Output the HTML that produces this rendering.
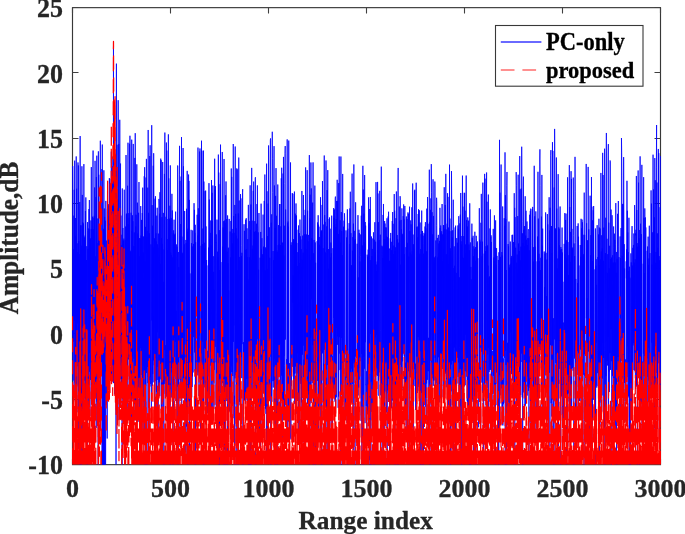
<!DOCTYPE html>
<html><head><meta charset="utf-8"><style>
html,body{margin:0;padding:0;background:#fff;width:685px;height:534px;overflow:hidden}
body{position:relative;font-family:"Liberation Serif",serif;font-weight:bold;color:#262626}
.t{position:absolute;left:0;top:0;width:685px;height:534px;will-change:transform;-webkit-text-stroke:0.3px currentColor}
svg{position:absolute;left:0;top:0}
.yl{position:absolute;right:622px;font-size:26px;line-height:26px;text-align:right;white-space:nowrap;transform:scaleY(1.04)}
.xl{position:absolute;top:476.3px;width:80px;font-size:26px;line-height:26px;text-align:center;white-space:nowrap}
.lab{position:absolute;font-size:25.3px;line-height:25px;white-space:nowrap}
.leg{position:absolute;font-size:22.5px;line-height:22px;white-space:nowrap;color:#000;transform:scaleY(1.06);transform-origin:0 0}
</style></head><body>
<svg width="685" height="534" viewBox="0 0 685 534">
<defs><clipPath id="c"><rect x="72" y="7" width="589" height="458"/></clipPath></defs>
<rect x="72.5" y="7.65" width="588.0" height="457.0" fill="none" stroke="#383838" stroke-width="1.15"/>
<path d="M72.5 7.5v6M72.5 464.5v-6M170.5 7.5v6M170.5 464.5v-6M268.5 7.5v6M268.5 464.5v-6M366.5 7.5v6M366.5 464.5v-6M464.5 7.5v6M464.5 464.5v-6M562.5 7.5v6M562.5 464.5v-6M660.5 7.5v6M660.5 464.5v-6M72.5 7.5h6M660.5 7.5h-6M72.5 72.5h6M660.5 72.5h-6M72.5 138.5h6M660.5 138.5h-6M72.5 203.5h6M660.5 203.5h-6M72.5 268.5h6M660.5 268.5h-6M72.5 333.5h6M660.5 333.5h-6M72.5 399.5h6M660.5 399.5h-6M72.5 464.5h6M660.5 464.5h-6" stroke="#404040" stroke-width="1.1" fill="none"/>
<g clip-path="url(#c)" fill="none" stroke-linejoin="round">
<path d="M72.5 335.44 72.7 166.05 72.89 186.2 73.09 380.54 73.28 249.24 73.48 252.1 73.68 341.68 73.87 215.61 74.07 391.24 74.26 189.75 74.46 320.73 74.66 160.67 74.85 382.51 75.05 235.86 75.24 401.47 75.44 217.99 75.64 397.83 75.83 237.43 76.03 355.73 76.23 156.45 76.42 386.58 76.62 188.71 76.81 386.93 77.01 412.3 77.21 243.35 77.4 323.4 77.6 251.97 77.79 366.32 77.99 162.45 78.19 385.68 78.38 165.47 78.58 448.87 78.77 241 78.97 395.46 79.17 254.15 79.36 342.09 79.56 366.17 79.75 202.01 79.95 464.5M79.95 464.5 80.15 136.05 80.34 340.7 80.54 225.54 80.73 392.77 80.93 375.91 81.13 225.3 81.31 464.5M81.34 464.5 81.52 245.79 81.72 421.36 81.91 166.29 82.11 357.93 82.3 194.92 82.5 454.19 82.7 222.08 82.89 396.07 83.09 243.96 83.28 327.82 83.48 223.49 83.68 408.46 83.87 164.1 84.07 410.45 84.26 240.19 84.46 350.75 84.66 237.39 84.85 380.72 85.05 235.59 85.24 379.53 85.44 211.01 85.64 401.92 85.83 197.43 86.03 379.23 86.22 410.46 86.42 260.03 86.62 453.17 86.81 246.23 87.01 354.63 87.13 464.5M87.25 464.5 87.4 230.44 87.6 222.07 87.79 331.04 87.99 248.87 88.19 390.37 88.38 228.52 88.58 419.97 88.77 373.51 88.97 209.04 89.17 371.74 89.36 200.05 89.56 352.61 89.75 229.22 89.95 416.21 90.15 239.8 90.34 380.05 90.54 238.36 90.73 334.6 90.93 220.44 91.13 369.01 91.32 167.12 91.52 389.47 91.71 229.11 91.91 237.65 92.11 234.9 92.3 392.35 92.5 216.71 92.69 369.75 92.89 167.98 93.09 150.56 93.28 363.19 93.48 229.4 93.68 437.99 93.87 217.63 94.07 397.29 94.26 215.84 94.46 444.23 94.66 187.44 94.85 389.11 95.05 160.84 95.24 209.7 95.44 394.49 95.64 256.42 95.83 349.36 96.03 197.14 96.22 427.9 96.42 177.02 96.62 370.13 96.81 155.69 97.01 401.92 97.2 218.48 97.4 242.97 97.6 258.66 97.79 383.39 97.99 243.02 98.16 464.5M98.21 464.5 98.38 151.33 98.58 408 98.77 174.71 98.97 360.36 99.16 238.15 99.36 376.62 99.56 241.01 99.75 241.91 99.95 382.65 100.15 430.82 100.34 140.72 100.54 369.66 100.73 190.23 100.93 366.46 101.13 270.29 101.32 357.42 101.52 237.46 101.71 362.43 101.91 169.09 102.07 464.5M102.14 464.5 102.3 144.56 102.46 464.5M102.74 464.5 102.89 253 103.05 464.5M103.31 464.5 103.48 228.83 103.65 464.5M103.7 464.5 103.87 170.32 104.05 464.5M104.09 464.5 104.26 208.48 104.44 464.5M104.48 464.5 104.65 216.92 104.81 464.5M105.1 464.5 105.24 220.74 105.4 464.5M105.67 464.5 105.83 200.91 106.03 378.96 106.22 249.83 106.42 404.62 106.62 240.59 106.81 372.97 107.01 287.73 107.2 438.5 107.4 208.87 107.6 384.74 107.79 391.06 107.99 205.74 108.18 354.6 108.38 204.19 108.58 382.25 108.77 216.31 108.97 348.99 109.16 380.2 109.36 178.12 109.56 352.85 109.75 178.84 109.95 346.1 110.14 208.68 110.34 351.11 110.54 189.82 110.73 292.15 110.93 208.21 111.12 292.15 111.32 151.62 111.52 374.55 111.71 179.18 111.91 382.3 112.11 166.06 112.3 336.02 112.5 167.91 112.69 368.09 112.89 156.48 113.09 377.63 113.28 369.59 113.48 46.67 113.67 383.07 113.87 141.33 114.07 383.14 114.26 145.26 114.46 144.03 114.65 394.41 114.85 153.61 115.05 356.35 115.24 168.57 115.44 385.59 115.63 175.77 115.83 193.88 115.98 464.5M116.07 464.5 116.22 184.87 116.42 63.65 116.61 178.91 116.81 359.61 117.01 144.75 117.2 391.07 117.4 243.41 117.6 358 117.79 199.42 117.99 420.02 118.18 100.21 118.38 188.86 118.58 347.11 118.77 144.01 118.97 382.31 119.16 228.78 119.36 359.73 119.56 245.47 119.75 119.79 119.95 188.67 120.14 355.78 120.34 185.74 120.54 163.55 120.73 379.43 120.93 215.56 121.12 390.27 121.32 245.31 121.52 389.53 121.71 394.65 121.91 234.75 122.08 464.5M122.13 464.5 122.3 188.48 122.5 375.1 122.69 250.54 122.89 227.99 123.08 398.98 123.28 347.19 123.48 240.56 123.67 357.05 123.87 238.61 124.07 398.78 124.26 189.71 124.46 354.29 124.65 249.96 124.85 425.27 125.05 399.66 125.24 240.21 125.44 379.42 125.63 226.56 125.83 377.1 126.03 155.03 126.22 384.51 126.42 214.22 126.61 336.79 126.81 213.47 127.01 348.55 127.2 257.51 127.4 366.05 127.59 185.75 127.79 413.82 127.99 142.73 128.18 353.3 128.38 224.44 128.57 359.06 128.77 213.18 128.97 359.71 129.16 217.84 129.36 394.23 129.56 143.76 129.75 383.23 129.95 135.75 130.14 427.88 130.34 250.78 130.54 395.29 130.73 252.25 130.93 350.33 131.12 212.74 131.32 381.43 131.52 425.16 131.71 139.67 131.91 399.42 132.1 231.2 132.3 360.71 132.5 215.34 132.69 391.08 132.89 221.22 133.08 341.73 133.28 143.95 133.48 456.72 133.67 401.95 133.87 246.13 134.06 358.68 134.26 232.48 134.46 245.55 134.65 404.16 134.85 157.93 135.04 420.32 135.24 133.18 135.44 409.79 135.63 226.51 135.83 396.64 136.03 214.74 136.22 225.11 136.42 392.79 136.61 430 136.81 164.33 137.01 376.52 137.2 409.19 137.4 202.66 137.59 369.49 137.79 233.55 137.99 422.03 138.18 235.73 138.38 389.47 138.57 212.78 138.77 362.72 138.97 182.05 139.16 387.04 139.36 238.11 139.55 431.15 139.75 256.51 139.95 256.8 140.14 399.65 140.34 238.29 140.53 347.92 140.73 206.09 140.93 425.92 141.12 235.59 141.32 375.01 141.52 219.92 141.71 359.92 141.91 257.64 142.1 364.71 142.3 212.99 142.5 387.54 142.69 187.65 142.89 435.11 143.08 252.51 143.28 365.76 143.48 236.49 143.67 401.83 143.87 278.62 144.06 372.6 144.26 176.26 144.46 375.07 144.65 167.22 144.85 436.67 145.04 261.87 145.2 464.5M145.28 464.5 145.44 226.83 145.63 386.14 145.83 228.35 146.02 177.52 146.22 369.11 146.42 158.88 146.61 373.03 146.81 237.34 146.97 464.5M147.04 464.5 147.2 230.83 147.4 366.97 147.59 223.99 147.79 187.64 147.99 383.12 148.18 129.98 148.38 377.01 148.57 212.86 148.77 407.72 148.97 242.13 149.16 434.95 149.36 233.29 149.55 370.08 149.75 156.02 149.95 386.53 150.14 145.25 150.34 377.2 150.53 349.97 150.73 383.84 150.93 244.36 151.12 381.24 151.32 411.5 151.51 403.09 151.71 125.2 151.91 320.51 152.1 205.12 152.3 385.77 152.49 225.72 152.69 374.09 152.89 247.29 153.08 382.32 153.28 165.77 153.47 360.38 153.67 153.24 153.87 208.73 154.06 219.96 154.26 365.25 154.46 238.35 154.65 407.88 154.85 377.62 155.04 198.68 155.24 381.2 155.44 196.23 155.63 358.13 155.83 262.17 156.02 233.27 156.22 414.81 156.42 241.57 156.61 391.9 156.81 215.67 157 366.97 157.2 207.78 157.4 332.26 157.59 244.27 157.79 379.92 157.98 247.66 158.18 434.74 158.38 233.59 158.57 244.05 158.77 390.97 158.96 198.93 159.16 205.22 159.36 388.56 159.55 213.71 159.75 396.12 159.95 192.23 160.14 355.82 160.34 263.94 160.53 363.77 160.73 158.62 160.93 379.37 161.12 160.21 161.32 413.42 161.51 238.09 161.71 412.84 161.91 217.16 162.1 402.07 162.3 243.87 162.49 392.68 162.69 161.98 162.89 422.68 163.08 363.99 163.28 212.89 163.47 394.99 163.67 281.9 163.84 464.5M163.89 464.5 164.06 249.54 164.26 383.85 164.45 173.91 164.65 350.02 164.85 132.57 165.04 391.39 165.24 393.91 165.43 381.19 165.63 345.21 165.83 381.22 166.02 216.76 166.22 394.35 166.42 142.55 166.61 396.69 166.81 150.56 167 349.63 167.2 239.12 167.4 379.57 167.59 250.3 167.79 387.84 167.98 218.99 168.18 458.22 168.38 134.36 168.57 419.72 168.77 178.37 168.96 377.95 169.16 228.37 169.36 452.13 169.55 218.73 169.75 380.44 169.94 205.73 170.14 464.5M170.14 464.5 170.34 165.39 170.53 389.33 170.73 252.77 170.92 372.53 171.12 217.94 171.32 397.45 171.51 255.35 171.71 368.01 171.91 193.83 172.1 327.55 172.3 210.47 172.49 408.87 172.69 257.5 172.89 276.38 173.06 464.5M173.1 464.5 173.28 233.36 173.47 396.72 173.67 230.37 173.87 410.1 174.06 219.68 174.26 372.94 174.45 234.58 174.65 337.89 174.85 244.6 175.04 391.07 175.24 233.56 175.43 342.02 175.63 211.64 175.83 373.6 176.02 310.87 176.22 353.95 176.41 402.92 176.61 244.45 176.81 385.73 177 427.15 177.2 246.74 177.39 386.69 177.59 165.5 177.79 165.76 177.98 464.45 178.18 407.46 178.38 252.09 178.57 390.81 178.77 267.26 178.96 446.82 179.16 223.29 179.36 174.44 179.55 145.85 179.75 357.61 179.94 180.84 180.14 379.43 180.34 236.11 180.53 393.62 180.73 224.04 180.92 355.95 181.12 176.54 181.32 358.65 181.51 137.05 181.71 434.34 181.9 236.66 182.1 357.59 182.3 254.13 182.49 373.85 182.69 252.74 182.88 390.64 183.08 148 183.28 392.39 183.47 166.34 183.67 372 183.87 356.38 184.06 393.84 184.26 244.24 184.45 398.79 184.65 210.96 184.85 399.83 185.04 361.77 185.24 452.42 185.43 396.75 185.63 383.85 185.83 239.96 186.02 395.33 186.22 243.14 186.41 426.51 186.61 208.77 186.81 360.51 187 457.81 187.2 170.87 187.39 393.59 187.59 231.68 187.77 464.5M187.8 464.5 187.98 228.68 188.18 348.18 188.37 388.71 188.57 174.53 188.77 401.3 188.96 180.89 189.16 352.69 189.35 199.91 189.55 446.81 189.75 348.49 189.94 273.43 190.14 405.24 190.34 402.39 190.53 379.28 190.73 394.77 190.92 407.84 191.12 229.83 191.32 411.83 191.51 243.14 191.71 397.43 191.9 271.8 192.1 386.99 192.3 246.53 192.49 376.39 192.69 230.45 192.88 255.73 193.08 372.44 193.28 355.93 193.47 243.88 193.67 337.1 193.86 243.6 194.06 203.2 194.26 332.56 194.45 209.88 194.65 352.45 194.84 232.88 195.04 371.22 195.24 224.8 195.4 464.5M195.47 464.5 195.63 242.19 195.83 378.05 196.02 357.23 196.22 407.04 196.41 346.12 196.61 360.66 196.81 355.7 197 279.1 197.2 214.76 197.39 361.88 197.59 235.57 197.79 375.41 197.98 147.58 198.18 372.33 198.37 208.32 198.57 367.14 198.77 222.58 198.96 396.09 199.16 214.52 199.35 335.56 199.55 151.59 199.75 369.34 199.94 148.47 200.14 381.79 200.33 402.37 200.53 431.91 200.73 361.77 200.92 360 201.12 245.77 201.31 361.2 201.51 140.69 201.71 371.02 201.9 150.67 202.1 411.02 202.3 417.65 202.49 244.02 202.69 341.87 202.88 228.53 203.08 400.58 203.28 169.53 203.47 150.62 203.63 464.5M203.71 464.5 203.86 181.57 204.06 263.12 204.26 242.75 204.45 348.21 204.65 248.49 204.84 387.35 205.04 191.15 205.24 382.87 205.43 375.35 205.63 190.6 205.82 404.92 206.02 226.42 206.22 382.11 206.41 387.05 206.61 260.03 206.8 376.96 207 369.91 207.2 376.36 207.39 413.34 207.59 350.81 207.79 388.59 207.98 392.02 208.18 265.4 208.37 372.75 208.57 247.58 208.77 357.03 208.96 183.15 209.16 355.62 209.35 199.6 209.55 441.86 209.75 239.09 209.94 406.99 210.14 243.07 210.33 232.87 210.53 351.51 210.73 220.49 210.92 365.64 211.12 245.25 211.31 423.68 211.51 180 211.71 276.74 211.9 353.84 212.1 192.84 212.29 422.96 212.49 220.91 212.69 351.03 212.88 185.47 213.08 336.7 213.27 256.25 213.47 381.54 213.67 271.86 213.86 408.87 214.06 289.79 214.26 360.28 214.45 369.95 214.65 158.73 214.84 362.36 215.04 189.76 215.24 346.85 215.43 186.13 215.63 242.91 215.82 242.07 216.02 405.55 216.22 234.4 216.41 386.3 216.61 442.41 216.8 327.52 217 219.64 217.2 248.94 217.39 401.8 217.59 251.71 217.78 379.33 217.98 257.21 218.18 417.29 218.37 154.59 218.57 427.88 218.76 172.59 218.95 464.5M218.98 464.5 219.16 270.03 219.33 464.5M219.4 464.5 219.55 394.69 219.75 230.11 219.94 378.46 220.14 184.2 220.33 340.88 220.53 144.61 220.73 393.51 220.92 262.1 221.12 340.55 221.31 401.58 221.51 390.98 221.71 398.69 221.9 411.91 222.1 409.9 222.29 151.98 222.49 383.14 222.69 246.65 222.88 369.26 223.08 227.47 223.27 263.31 223.47 418.19 223.67 221.17 223.8 464.5M223.92 464.5 224.06 158.98 224.25 400.5 224.45 220.52 224.65 449.62 224.84 227.28 225.04 388.4 225.23 223.1 225.39 464.5M225.47 464.5 225.63 195.27 225.82 368.55 226.02 181.45 226.22 401.06 226.41 371.97 226.61 219.19 226.8 397.2 227 253.44 227.2 251.7 227.37 464.5M227.41 464.5 227.59 215.43 227.78 353.54 227.98 263.22 228.18 420.98 228.37 247.68 228.57 389.6 228.76 290.52 228.96 382.87 229.16 218.92 229.35 411.49 229.55 366.65 229.74 402.25 229.94 333.67 230.14 231.54 230.33 403.51 230.53 257.52 230.72 380.67 230.92 220.94 231.12 406.61 231.31 168.51 231.51 366.24 231.71 176.89 231.9 371.97 232.1 233.22 232.29 372.15 232.49 243.59 232.69 376.02 232.88 228.94 233.08 418.21 233.27 144.01 233.47 341.84 233.67 215.99 233.86 325.5 234.06 232.81 234.25 404.06 234.45 395.72 234.59 464.5M234.66 464.5 234.84 204.95 235.04 378.32 235.23 146.53 235.43 370.13 235.63 213.9 235.82 375.2 236.02 228.24 236.19 464.5M236.24 464.5 236.41 235.85 236.61 384.79 236.8 168.35 237 371.61 237.19 169.27 237.39 366.78 237.59 270.48 237.78 385.83 237.98 238.59 238.16 464.5M238.19 464.5 238.37 213.47 238.57 378.19 238.76 157.57 238.96 363.59 239.16 200.51 239.35 362.48 239.55 401.75 239.74 256.99 239.94 405.33 240.14 260.85 240.33 384.94 240.53 194.07 240.72 365.71 240.92 198.38 241.12 245.62 241.31 357.13 241.51 256.05 241.7 378.11 241.9 252.79 242.1 344.11 242.29 223.22 242.49 192.75 242.68 189.2 242.85 464.5M242.98 464.5 243.08 404.09 243.27 375.41 243.47 342.2 243.67 382.4 243.86 385.87 244.06 224.22 244.25 400.69 244.45 230.89 244.65 399.93 244.84 398.06 245.04 254.66 245.23 249.81 245.43 403.69 245.63 219.68 245.82 282.3 246.02 400.56 246.21 218.19 246.41 378.95 246.61 249.1 246.8 395.55 247 228.33 247.19 364.83 247.39 257.05 247.59 402.64 247.78 239.05 247.98 378.7 248.17 377.98 248.37 204.88 248.52 464.5M248.64 464.5 248.76 351.43 248.96 279.49 249.1 464.5M249.2 464.5 249.35 257.19 249.55 434.39 249.74 221.09 249.94 385.2 250.14 185.34 250.33 464.5M250.33 464.5 250.53 229.93 250.72 403.45 250.92 204.47 251.07 464.5M251.17 464.5 251.31 259.84 251.51 353.91 251.7 167.9 251.9 355.21 252.1 220.69 252.29 393.13 252.49 248.81 252.68 361.8 252.88 245.56 253.08 372.21 253.27 190.84 253.47 375.78 253.66 181.58 253.86 338.32 254.06 239.11 254.25 398.1 254.45 231.75 254.64 396.7 254.84 221.09 255.04 400.45 255.23 178.33 255.43 177.22 255.58 464.5M255.68 464.5 255.82 230.9 256.02 415.22 256.21 231.92 256.41 350.76 256.61 223.71 256.8 405.3 257 204.07 257.19 339.24 257.39 185.4 257.59 225.09 257.78 228.67 257.98 385.4 258.17 232.34 258.37 388.96 258.57 269.74 258.76 437.26 258.96 213.03 259.15 419.23 259.35 429.57 259.55 410.48 259.74 386.66 259.94 398.86 260.13 257.7 260.33 378 260.53 460.83 260.72 231.95 260.92 417.68 261.11 203.68 261.31 357.1 261.51 249.34 261.7 418.18 261.9 238.19 262.1 428.92 262.29 385.06 262.49 257.6 262.68 254.26 262.88 383.4 263.08 214.63 263.27 383.47 263.47 247.36 263.66 350.48 263.86 246.52 264.06 384.21 264.25 200.95 264.45 239.13 264.64 394.62 264.84 174.52 265.04 356.33 265.23 270.5 265.43 408.64 265.62 247.43 265.82 408.03 266.02 413.87 266.21 248.66 266.41 460.33 266.6 163.65 266.8 371.59 267 191.29 267.19 365.32 267.39 269.15 267.59 451.75 267.78 236.05 267.98 456.57 268.17 203.59 268.37 360.31 268.57 145.46 268.76 394.72 268.96 338.16 269.15 272.1 269.35 227.34 269.55 396.49 269.74 257.76 269.94 356.76 270.13 166.98 270.33 140.4 270.53 138.43 270.72 464.5M270.73 464.5 270.92 391.75 271.11 274.19 271.31 222.7 271.51 411.19 271.7 214.32 271.9 401.82 272.09 156.03 272.29 131.76 272.49 158.22 272.68 192.36 272.88 381.13 273.07 251.07 273.27 387.51 273.47 260.33 273.66 380.9 273.86 181.1 274.06 146.13 274.25 358.48 274.45 185.47 274.62 464.5M274.68 464.5 274.84 250.77 275.04 399.66 275.23 228.22 275.43 437.21 275.62 195.87 275.82 342.57 276.02 168.11 276.21 388.49 276.41 215.8 276.6 419.8 276.8 254.07 277 250.46 277.15 464.5M277.23 464.5 277.39 252.15 277.58 376.79 277.78 184.53 277.98 416.18 278.17 245.12 278.37 365.9 278.56 225.11 278.76 371.94 278.96 247.17 279.15 244.32 279.35 346.85 279.55 204.06 279.74 364.72 279.94 204.01 280.13 409.22 280.33 247.77 280.53 245.04 280.72 414.2 280.92 226.33 281.11 343.73 281.31 178.26 281.51 375.61 281.7 167.76 281.9 395.82 282.09 246.05 282.29 461.74 282.49 242.61 282.68 246.57 282.88 399.68 283.07 173.53 283.27 412.77 283.47 156.92 283.66 406.97 283.86 255.55 284.05 356.1 284.25 225.71 284.45 408.38 284.64 365.54 284.84 183.44 285.03 153.41 285.23 146.05 285.43 339.54 285.62 209.58 285.82 224.83 286.02 411.76 286.21 371.96 286.41 363.54 286.6 359.25 286.8 367.1 287 389.89 287.19 139.38 287.39 398.3 287.58 223.07 287.78 431 287.98 221.52 288.17 354.09 288.37 226.69 288.56 421.51 288.76 140.59 288.96 390.53 289.15 388.33 289.35 392.65 289.54 363.12 289.74 429.66 289.94 437.72 290.13 403.25 290.33 373.28 290.52 162.45 290.72 353.16 290.92 439.39 291.11 244.95 291.31 330.55 291.51 386.14 291.7 251.04 291.9 242.29 292.09 345.48 292.29 193.1 292.49 348.48 292.68 366.81 292.88 193.78 293.07 302.6 293.27 275.69 293.47 390.17 293.66 239.06 293.86 373.19 294.05 240.3 294.25 374.02 294.45 191.58 294.64 403.82 294.84 249.68 295.03 373.43 295.23 213.67 295.43 366.48 295.62 215.71 295.82 334.69 296.01 203.46 296.21 413.88 296.41 215.46 296.6 372.51 296.8 242.98 296.99 398.91 297.19 265.93 297.39 373.48 297.58 352.94 297.78 252.19 297.98 353.23 298.17 229.74 298.37 393.18 298.56 225.44 298.76 429.42 298.96 262.92 299.15 423.74 299.35 233.1 299.54 376.13 299.74 375.36 299.94 219.59 300.13 230.25 300.33 381.36 300.52 236.37 300.72 383.87 300.92 239.52 301.11 443.35 301.31 249.18 301.5 351.53 301.7 402.36 301.9 190.96 302.09 354.86 302.29 259.88 302.48 354.28 302.68 235.63 302.88 396.28 303.07 252.66 303.27 345.6 303.46 195 303.66 412.03 303.86 359.63 304.05 445.92 304.25 366.91 304.45 234.27 304.64 387.18 304.84 215.25 305.03 397.31 305.23 209.8 305.43 405.66 305.62 167.42 305.82 373.94 306.01 248.99 306.21 386.81 306.41 234.49 306.6 238.96 306.8 358.7 306.99 370.36 307.19 170.18 307.39 404 307.58 210.67 307.78 378.86 307.97 241.23 308.17 404.34 308.37 234.93 308.56 394.41 308.76 370.84 308.95 357.99 309.1 464.5M309.17 464.5 309.35 155.08 309.54 381.8 309.74 218.34 309.94 441.96 310.13 194.66 310.33 393.29 310.52 260.36 310.72 337.67 310.92 162.48 311.11 402.78 311.31 188.41 311.5 299.13 311.7 238.07 311.9 380.88 312.09 239.47 312.29 383.13 312.48 206.85 312.68 202.6 312.88 345.14 313.07 162.38 313.27 417.17 313.39 464.5M313.49 464.5 313.66 253.18 313.86 429.41 314.05 239.99 314.25 259.56 314.44 389.22 314.64 412.33 314.84 185.64 315.03 384.64 315.23 242.44 315.38 464.5M315.48 464.5 315.62 262.75 315.82 367.33 316.01 403.72 316.21 405.09 316.41 362.32 316.6 383.82 316.8 399.56 316.99 406.53 317.19 241.11 317.39 380.82 317.58 222.44 317.78 244.33 317.97 360.77 318.17 215.25 318.37 428.8 318.56 224.71 318.76 386.32 318.95 226.69 319.15 409.7 319.35 244.72 319.54 369.14 319.74 236.98 319.93 362.47 320.13 246.21 320.33 350.62 320.52 197.22 320.72 429.27 320.91 376.96 321.11 231.58 321.31 397.97 321.5 230.44 321.64 464.5M321.8 464.5 321.9 384.14 322.09 204.93 322.29 353.46 322.48 181.06 322.68 216.74 322.88 352.64 323.07 248.23 323.27 409.75 323.46 363.73 323.66 365.6 323.86 224.53 324.05 416.92 324.25 155.52 324.44 349.78 324.64 215.12 324.84 307.03 325.03 221.86 325.23 250.59 325.42 371.83 325.62 252.41 325.82 358.45 326.01 160.47 326.21 381.66 326.4 410.78 326.6 252.48 326.8 226.37 326.99 462.75 327.19 190.06 327.38 365.05 327.58 204.93 327.78 170.11 327.97 376.23 328.17 458.44 328.37 249.06 328.56 411.24 328.76 268.75 328.95 357.97 329.15 218.92 329.35 363.08 329.54 217.43 329.74 385.74 329.93 377.94 330.13 228.69 330.33 397 330.52 257.67 330.72 377.49 330.91 242.56 331.11 427.71 331.31 253.24 331.5 356.11 331.7 215.66 331.89 394.83 332.09 388.31 332.29 355.89 332.48 438.96 332.68 370.48 332.87 388.45 333.07 248.19 333.27 391.77 333.46 224.71 333.66 208.04 333.86 317.94 334.05 217.84 334.25 396.43 334.44 209.45 334.64 384.98 334.84 224.17 335.03 401.65 335.23 198.94 335.42 196.58 335.62 408.34 335.82 227.01 336.01 379.68 336.21 219.03 336.4 397.3 336.6 200.96 336.8 220.68 336.99 327.93 337.19 179.81 337.38 344.79 337.58 200.84 337.78 336.48 337.97 259.36 338.17 407.81 338.36 233.91 338.56 396.54 338.76 183.09 338.95 370.15 339.15 156.46 339.34 186.04 339.54 337.15 339.74 229.74 339.93 353.66 340.13 220.28 340.32 464.5M340.33 464.5 340.52 242.64 340.72 369.31 340.91 156.52 341.11 393.89 341.31 212.08 341.5 337.82 341.7 231.04 341.89 400.92 342.02 464.5M342.12 464.5 342.29 254.99 342.48 375.12 342.68 173.95 342.87 401.78 343.07 360.98 343.27 240.42 343.46 226.69 343.66 374.19 343.85 254.96 344.05 220.67 344.25 361.76 344.44 213.27 344.64 217.74 344.83 411.8 345.03 388.41 345.23 368.32 345.42 416.33 345.62 394.24 345.82 390.53 346.01 230.37 346.21 239.72 346.4 377.92 346.6 237.46 346.8 392.55 346.99 422.95 347.19 283 347.38 209.33 347.55 464.5M347.61 464.5 347.78 228.69 347.97 253.94 348.17 386.42 348.36 388.24 348.56 433.38 348.76 395.57 348.95 391.68 349.15 223.12 349.34 362.39 349.54 244.24 349.74 406.13 349.93 208.39 350.13 418.03 350.32 191.73 350.52 395.54 350.72 393.41 350.91 233.13 351.11 368.73 351.3 366.41 351.5 265.22 351.7 402.63 351.89 370.69 352.09 173.61 352.29 382.04 352.48 250.75 352.68 384.22 352.87 237.07 353.07 254.29 353.27 450.28 353.46 223.63 353.66 360.28 353.85 164.46 354.05 363.4 354.25 230.87 354.44 367.38 354.64 240.65 354.83 386.92 354.94 464.5M355.07 464.5 355.23 239.03 355.42 356.53 355.62 202.29 355.81 337.86 356.01 376.54 356.21 362.03 356.4 372.17 356.6 379.54 356.79 380.87 356.99 395.84 357.19 243.75 357.38 374.98 357.58 360.08 357.78 249.66 357.97 215.16 358.17 395.49 358.36 277.43 358.56 326.3 358.76 387.59 358.95 229.74 359.15 368.14 359.34 233.13 359.54 255.85 359.74 379.78 359.93 261.52 360.13 361.25 360.32 256.25 360.52 254.89 360.72 234.46 360.91 339.29 361.11 421.05 361.3 215.67 361.5 353.73 361.7 205.81 361.88 464.5M361.91 464.5 362.09 262.46 362.28 442.53 362.48 245.51 362.68 371.22 362.87 165.82 363.07 400.92 363.26 189.55 363.44 464.5M363.52 464.5 363.66 367.85 363.85 213.67 364.05 356.89 364.25 242.51 364.44 368.69 364.64 175.02 364.83 370.78 365.03 423.18 365.23 222.02 365.42 342.24 365.62 225.6 365.81 385.13 366.01 384.52 366.21 406.16 366.4 371.23 366.6 371.22 366.79 430.54 366.99 373.34 367.19 254.67 367.38 258.76 367.58 414.2 367.77 256.7 367.97 407.4 368.17 249.64 368.36 401.08 368.56 197.39 368.75 362.33 368.95 224.95 369.15 223.18 369.34 460.24 369.54 259.65 369.74 208.98 369.91 464.5M369.99 464.5 370.13 396.69 370.32 196.97 370.52 333.74 370.72 260.16 370.89 464.5M370.93 464.5 371.11 266.05 371.3 411.85 371.5 236.53 371.7 381.59 371.89 256.06 372.09 372.29 372.28 248.95 372.48 361.64 372.68 409.05 372.87 238.49 373.07 405.39 373.26 369.42 373.46 232.35 373.66 335.96 373.85 381.86 373.98 464.5M374.12 464.5 374.24 386.32 374.44 239.74 374.64 371.23 374.83 222.25 375.03 357.74 375.22 252.33 375.42 337.31 375.62 241.68 375.81 392.92 376.01 182.12 376.21 374.95 376.4 270.96 376.6 334.82 376.79 264.58 376.99 368.78 377.19 261.54 377.38 375.85 377.58 181.93 377.77 365.63 377.97 193.47 378.17 395.76 378.36 222.12 378.56 380.68 378.75 376.03 378.95 246.33 379.15 240.18 379.34 372.44 379.54 346.57 379.73 190.85 379.93 361.37 380.13 267.08 380.32 234.7 380.52 330.84 380.71 395.36 380.91 249.71 381.11 213.49 381.3 166.65 381.5 431.33 381.7 439.68 381.89 245.66 382.09 458.13 382.28 246.53 382.48 392.51 382.68 258.02 382.87 343.88 383.07 214.91 383.26 356.5 383.46 203.97 383.66 353.46 383.85 379.07 384.05 239.26 384.24 443.19 384.44 359.12 384.64 220.98 384.83 408.28 385.03 223.54 385.22 360.95 385.42 239.53 385.62 363.62 385.81 227.28 386.01 391.53 386.2 227.7 386.4 412.36 386.6 236.21 386.79 393.3 386.99 218.32 387.16 464.5M387.21 464.5 387.38 237.15 387.58 386.34 387.77 242.22 387.97 390.32 388.17 216.49 388.36 378.73 388.56 211.73 388.75 372.39 388.95 261.19 389.15 394.82 389.34 248.52 389.5 464.5M389.58 464.5 389.73 260.74 389.93 401.62 390.13 454.56 390.32 238.34 390.52 416.36 390.71 232.94 390.91 361.24 391.11 368.83 391.3 241.82 391.5 408.27 391.69 250.19 391.89 375.08 392.09 371.69 392.28 221.02 392.48 400.54 392.67 212 392.87 391.95 393.07 223.82 393.26 407.42 393.46 254.01 393.66 417.75 393.85 245.59 394.05 359.68 394.24 194.07 394.44 399.27 394.64 210.67 394.83 221.46 395 464.5M395.05 464.5 395.22 251.43 395.42 387.41 395.62 247.34 395.81 347.04 396.01 218.2 396.2 419.67 396.4 191.5 396.6 407.47 396.79 269.7 396.99 370.78 397.18 235.01 397.38 389.24 397.58 239.15 397.73 464.5M397.81 464.5 397.97 190.7 398.16 167.94 398.36 410.35 398.56 408.66 398.75 242.66 398.95 257.42 399.14 368.41 399.34 206.54 399.54 389.05 399.73 220.67 399.93 361.3 400.13 196.19 400.32 203.95 400.52 364.85 400.71 264.67 400.91 424.64 401.11 219.93 401.3 413.6 401.5 229.35 401.69 375.22 401.89 208.37 402.09 390.32 402.28 234.7 402.48 361.34 402.67 361.24 402.87 233.79 403.07 349.09 403.26 216.1 403.46 353.5 403.65 204.41 403.85 347.6 404.05 219.34 404.24 356.08 404.44 254.09 404.63 390.48 404.83 205.98 405.03 410.62 405.22 374.27 405.42 362.66 405.62 420.04 405.81 379.7 406.01 247.21 406.2 431.52 406.4 216.49 406.6 388.75 406.79 338.84 406.99 219.03 407.18 404.87 407.38 242.84 407.58 391.13 407.77 373.87 407.97 212.38 408.16 368.59 408.36 213.7 408.56 371.28 408.75 256.46 408.95 446.85 409.14 410.11 409.34 229.26 409.54 206.67 409.73 377.08 409.93 231.08 410.12 372.46 410.32 252.73 410.52 377.33 410.71 220.42 410.91 353.7 411.1 224.39 411.3 440.69 411.5 254.51 411.69 352.9 411.89 207.32 412.09 369.36 412.28 251.14 412.48 325.9 412.67 183.51 412.87 393.47 413.07 234.54 413.26 431.2 413.46 244.29 413.65 349.56 413.85 248.7 414.05 386.19 414.24 327.9 414.44 190.63 414.63 369.2 414.83 189.73 415.03 375.21 415.22 379.4 415.42 363.64 415.61 409.93 415.81 372.37 416.01 393.9 416.2 182.73 416.4 392.64 416.59 370.8 416.79 227.23 416.99 363.47 417.18 226.49 417.38 393.04 417.58 281.33 417.77 237.24 417.97 336.81 418.16 214 418.36 386.88 418.56 209.22 418.75 337.08 418.95 265.59 419.14 390.88 419.34 210.23 419.54 340.24 419.73 253.77 419.93 379.4 420.12 222.52 420.28 464.5M420.39 464.5 420.52 355.56 420.71 249.11 420.91 392.83 421.1 234.26 421.3 249.48 421.5 392.71 421.69 210.59 421.86 464.5M421.92 464.5 422.08 231.03 422.28 459.75 422.48 230.99 422.67 257.3 422.87 386.79 423.06 235.71 423.26 243.59 423.42 464.5M423.49 464.5 423.65 253.7 423.85 378.84 424.05 232.83 424.24 363.49 424.44 234.19 424.63 394.8 424.83 370.26 425.03 226.51 425.22 406.8 425.42 222.12 425.61 397.62 425.81 228.25 426.01 421.88 426.2 420.99 426.4 251.25 426.59 383.43 426.79 208.65 426.99 355.25 427.18 349.16 427.38 379.81 427.57 197.04 427.77 371.1 427.97 223.67 428.16 429.07 428.36 370.03 428.55 337.82 428.75 371.15 428.95 368.28 429.14 357.43 429.34 169.69 429.54 386.13 429.73 222.03 429.9 464.5M429.95 464.5 430.12 228.24 430.32 360.63 430.52 209.87 430.71 346.15 430.91 198.38 431.1 403.52 431.3 164.11 431.5 192.67 431.69 383.57 431.89 425.88 432.08 212.2 432.28 378.3 432.48 370.49 432.67 234.39 432.87 349.58 433.06 179.31 433.26 385.78 433.46 215.94 433.65 380.47 433.85 262.86 434.04 345.23 434.24 380.37 434.44 257.45 434.63 317.17 434.83 181.56 435.02 188.08 435.22 357.84 435.42 256.1 435.61 386.02 435.81 240.48 436.01 410.36 436.2 391.8 436.4 225.34 436.59 197.76 436.79 203.51 436.99 382.98 437.18 352.69 437.38 237.93 437.57 397.96 437.77 257.4 437.97 432.54 438.16 453.96 438.36 234.89 438.55 357.24 438.75 243.54 438.95 348.2 439.14 253.01 439.34 384.06 439.53 240.85 439.73 402.4 439.93 207.85 440.12 371.49 440.32 227.93 440.51 364.11 440.71 225.44 440.91 236.4 441.1 362.65 441.3 233.31 441.49 389.86 441.69 231.25 441.89 397.15 442.08 204.04 442.28 350.98 442.48 236.12 442.67 234.38 442.87 368.99 443.06 261.14 443.26 357.99 443.46 225.2 443.65 395.47 443.85 225.26 444.04 344.65 444.24 187.25 444.44 372.68 444.63 376.4 444.83 228.98 445.02 371.83 445.22 205.06 445.42 277.84 445.61 373.59 445.81 173.86 446 363.2 446.2 387.29 446.4 254.22 446.59 379.25 446.79 229.52 446.98 346.11 447.18 223.67 447.38 415.86 447.57 193.21 447.77 390.62 447.97 196.87 448.16 404.85 448.36 227.53 448.55 349.7 448.75 264.69 448.95 424.13 449.14 230.98 449.34 375.96 449.53 164.62 449.73 417.35 449.93 218.57 450.12 316.44 450.32 248.16 450.47 464.5M450.56 464.5 450.71 250.9 450.91 454.64 451.1 231.14 451.3 364.43 451.49 171.07 451.69 199.4 451.89 391.34 452.08 378.01 452.28 237.51 452.47 360.82 452.67 230.33 452.87 375.23 453.06 401.86 453.26 199.72 453.45 463.65 453.65 372.09 453.85 268.11 454.04 370.6 454.24 246.37 454.44 347.4 454.63 265.75 454.83 388.39 455.02 229.53 455.22 227.31 455.42 459.76 455.61 225.63 455.81 392.65 456 353.52 456.2 272.91 456.4 385.51 456.59 383.01 456.79 238.09 456.98 383.52 457.18 263.61 457.38 242.73 457.57 357.72 457.77 267.59 457.96 225.45 458.16 376.86 458.36 228.74 458.55 362.51 458.75 216.19 458.94 410.82 459.14 364.83 459.34 277.31 459.53 347.34 459.73 399.29 459.93 223.39 460.12 396.45 460.32 214.63 460.51 434.92 460.71 192.98 460.91 389.21 461.1 241.26 461.3 386.99 461.49 244.54 461.64 464.5M461.74 464.5 461.89 235.97 462.08 368.49 462.28 222.03 462.47 175.64 462.67 402.51 462.87 206.64 463.06 250.94 463.26 448.21 463.45 257.89 463.65 424.34 463.85 236.04 464.04 378.33 464.24 192.73 464.43 386.4 464.63 193.09 464.83 355.24 465.02 210.69 465.22 385.23 465.41 244.46 465.61 334.51 465.81 253.28 466 371.18 466.2 175.55 466.4 372.19 466.59 219.98 466.79 376.62 466.98 240.28 467.18 401.29 467.38 226.55 467.57 406.32 467.77 217.4 467.96 354.7 468.16 385.06 468.36 220.63 468.55 410.9 468.75 365.72 468.94 244.54 469.14 405.45 469.34 250.37 469.52 464.5M469.54 464.5 469.73 203.3 469.92 436.55 470.12 391.24 470.32 242.38 470.51 376.79 470.63 464.5M470.76 464.5 470.9 266.94 471.1 411.95 471.3 279.41 471.49 410.63 471.69 406.45 471.89 223.67 472.08 401.76 472.28 237.81 472.47 248.42 472.67 399.43 472.87 286.19 473.06 235.8 473.26 389.89 473.45 256.29 473.65 457.33 473.85 246.32 474.04 350.2 474.24 413.27 474.43 248.68 474.63 390.18 474.83 231.76 475.02 414.11 475.22 260.69 475.41 403.61 475.61 247.04 475.81 264.98 475.96 464.5M476.04 464.5 476.2 235.82 476.39 238.74 476.59 396.11 476.79 242.62 476.98 270.69 477.18 383.15 477.37 241.43 477.57 387.28 477.77 258.19 477.96 373.12 478.16 407.33 478.36 427.33 478.55 412.16 478.75 388.42 478.94 376.64 479.14 392.93 479.34 208.2 479.53 368.91 479.73 239.73 479.92 397.48 480.12 241.59 480.32 348.64 480.51 381.66 480.71 430.92 480.9 222.75 481.1 351.83 481.3 193.89 481.49 219.84 481.69 224.04 481.88 382.58 482.08 256.23 482.28 343.83 482.47 241.67 482.67 392.94 482.86 182.63 483.06 357.66 483.26 400.58 483.45 393.4 483.65 450.99 483.85 391.26 484.04 377.7 484.24 253.64 484.43 383.42 484.63 173.88 484.83 390.16 485.02 178.63 485.22 362.29 485.41 251.11 485.61 368.66 485.81 374.07 486 246.17 486.2 448.68 486.39 208.99 486.59 172.51 486.79 383.55 486.98 201.75 487.18 258.59 487.37 387.92 487.57 245.46 487.77 354.45 487.96 265.69 488.16 347.9 488.35 194.57 488.55 398.65 488.75 442.12 488.94 277.69 489.14 372.12 489.33 350.55 489.53 276.47 489.73 369.97 489.92 228.44 490.12 364.18 490.32 209.45 490.51 369.75 490.71 236.88 490.9 358.39 491.1 235.33 491.3 409.59 491.49 241.98 491.69 387.06 491.88 381.71 492.08 402.96 492.28 351.03 492.47 364.66 492.67 371.73 492.86 364.48 493.06 393.8 493.26 228.87 493.45 375.68 493.65 263.37 493.84 257.55 494.04 395.94 494.24 439.84 494.43 215.38 494.63 388.11 494.82 260.86 495.02 392.7 495.22 247.56 495.35 464.5M495.47 464.5 495.61 220.38 495.81 394.35 496 405.17 496.2 264.88 496.39 372.51 496.59 248.14 496.79 340.38 496.98 255.95 497.18 383.96 497.37 359.3 497.57 440.52 497.77 382.45 497.96 380.5 498.16 459.33 498.35 259.98 498.55 265.18 498.7 464.5M498.79 464.5 498.94 252.34 499.14 344.49 499.33 428.88 499.53 139.85 499.73 374.84 499.92 192.64 500.12 237.1 500.31 376.34 500.51 256.92 500.71 395.32 500.9 231.87 501.1 164.53 501.29 324.75 501.49 355.77 501.69 388.35 501.88 252.09 502.08 424.47 502.28 255.43 502.47 408.26 502.67 206.48 502.86 425.48 503.06 393.77 503.26 400.57 503.45 404.22 503.65 358.42 503.84 402.8 504.04 379.24 504.24 218.22 504.43 357.8 504.63 225.76 504.82 348.1 505.02 152.35 505.18 464.5M505.26 464.5 505.41 195.15 505.61 350.97 505.8 219.06 506 365.06 506.2 270.04 506.36 464.5M506.47 464.5 506.59 404.95 506.78 185.43 506.98 171.98 507.18 409.79 507.37 405.57 507.57 342.79 507.77 384.42 507.96 405.76 508.16 244.04 508.35 402.54 508.55 246.35 508.75 390.18 508.94 221.56 509.14 340.48 509.33 267.46 509.53 416.47 509.73 274.08 509.92 264.7 510.12 368.11 510.31 241.57 510.51 265.68 510.71 367.13 510.9 263.78 511.1 332.1 511.29 257.76 511.49 374.09 511.69 255.95 511.88 353.56 512.08 234.93 512.27 380.46 512.47 378.38 512.67 234.79 512.86 257.72 513.06 269.93 513.25 394.05 513.45 242 513.65 368.2 513.84 256.6 514.04 406.5 514.24 193.2 514.43 391.85 514.63 207.9 514.78 464.5M514.87 464.5 515.02 217.13 515.22 245.65 515.41 368.55 515.61 247.78 515.8 253.44 516 388.68 516.2 172.11 516.39 185.31 516.59 414.61 516.78 262.71 516.98 365.66 517.18 254.55 517.37 284.49 517.57 391.96 517.76 216.09 517.96 349.54 518.16 174.72 518.35 359.25 518.55 243.52 518.74 345.66 518.94 251.04 519.14 350.98 519.33 251 519.53 372.1 519.73 156.09 519.92 440.37 520.12 189.31 520.31 369.78 520.51 260.53 520.71 395.11 520.9 246.66 521.1 361.95 521.29 188.43 521.49 353.55 521.69 146.73 521.88 193.74 522.08 221.47 522.27 397.34 522.47 233.35 522.66 464.5M522.67 464.5 522.86 243.04 523.06 353.11 523.25 184.05 523.45 176.63 523.65 392.38 523.84 229.82 524.04 242.91 524.23 390.31 524.43 226.05 524.63 396.43 524.82 246.05 525.02 406.38 525.21 196.27 525.41 405.24 525.61 235.62 525.8 399.58 526 210.76 526.2 377.5 526.39 253.51 526.59 239.76 526.78 373.17 526.98 221.48 527.18 395.56 527.37 245.03 527.57 376.46 527.76 238.08 527.96 386.56 528.16 231.25 528.35 229.24 528.55 390.78 528.74 238.14 528.94 455.55 529.14 250.26 529.33 320.87 529.53 387.66 529.72 214.75 529.92 363.45 530.12 278.85 530.31 210.86 530.51 405.61 530.7 208.65 530.9 433.5 531.1 319.72 531.29 390.51 531.49 358.11 531.69 409.65 531.88 395.18 532.08 245.35 532.27 209.16 532.47 372.82 532.67 206.92 532.86 257.02 533.06 416.94 533.25 247.11 533.45 405.58 533.65 261.64 533.84 372.18 534.04 422.18 534.23 165.79 534.43 373.32 534.63 216.32 534.82 419.1 535.02 246.68 535.21 252.4 535.41 388.99 535.61 258.72 535.8 211.39 536 432.04 536.19 338.45 536.39 400.1 536.59 368.57 536.78 411.52 536.98 401.25 537.17 261.37 537.37 452.08 537.57 236.54 537.76 358.04 537.96 171.81 538.16 417.71 538.35 218.63 538.55 255.53 538.74 398.42 538.94 253.79 539.14 372.74 539.33 261.26 539.53 364.53 539.72 159.99 539.92 149.35 540.12 185.27 540.31 350.14 540.51 270.1 540.7 344.67 540.9 257.81 541.1 346.07 541.29 368.26 541.49 216.62 541.68 389.23 541.88 174.93 542.08 415.22 542.27 245.79 542.47 347.49 542.66 228.63 542.86 374.22 543.06 387.49 543.25 418.98 543.45 405.25 543.65 384.94 543.84 411.72 544.04 394.34 544.23 251.51 544.43 364.33 544.63 287.22 544.82 387.61 545.02 253.62 545.21 333.97 545.41 298.47 545.61 212.42 545.8 374.88 546 252.8 546.19 362.39 546.39 372.04 546.59 296.17 546.78 345.16 546.98 259.58 547.17 401.26 547.37 214.05 547.57 392.73 547.76 224.4 547.96 369.27 548.15 422.92 548.35 379.28 548.55 336.9 548.74 330.5 548.94 349.14 549.13 197.25 549.33 372.78 549.53 230.51 549.72 253.12 549.92 446.53 550.12 207.78 550.31 248.55 550.51 345.17 550.7 155.27 550.9 150.13 551.1 403.15 551.29 398.54 551.49 226.03 551.68 416.5 551.88 400.79 552.08 253.01 552.27 399.43 552.47 142.17 552.66 381.67 552.86 150.9 553.06 441.28 553.25 405.44 553.45 318.28 553.64 367.14 553.84 378.69 553.96 464.5M554.07 464.5 554.23 187.46 554.43 339.36 554.62 128.93 554.82 170.3 555.02 394.43 555.21 351.54 555.41 228.43 555.61 357.21 555.8 363.21 556 229.49 556.19 354.12 556.39 157.51 556.59 407.01 556.78 208.61 556.98 250.72 557.17 340.29 557.37 268.57 557.57 459.49 557.76 258.54 557.96 358.74 558.15 174.16 558.35 446.38 558.55 413.85 558.74 227.34 558.94 383.89 559.13 228.65 559.33 368.84 559.53 245.3 559.72 358.92 559.92 227.03 560.11 206.51 560.31 343.05 560.51 249.58 560.66 464.5M560.75 464.5 560.9 247.01 561.09 347.19 561.29 264.47 561.49 395.79 561.68 248.97 561.88 396.7 562.08 227.56 562.27 415.13 562.47 252.51 562.66 421.36 562.86 281.73 563.06 375.83 563.25 381.9 563.45 429.83 563.64 322.55 563.84 384.6 564.04 333.35 564.23 243.87 564.43 258.04 564.62 371.28 564.82 213.09 565.02 353.09 565.21 254.69 565.41 368.11 565.6 219.95 565.8 394.43 566 213.64 566.19 355.2 566.39 258.44 566.56 464.5M566.61 464.5 566.78 240.12 566.98 399.7 567.17 241.49 567.37 393.92 567.57 177.32 567.76 446.47 567.96 242.12 568.15 256.1 568.35 393.45 568.55 275.23 568.74 377.34 568.94 255.19 569.13 401.61 569.33 165.13 569.53 432.44 569.72 207.04 569.92 429.4 570.11 363.39 570.31 231.9 570.51 409.91 570.7 261.89 570.9 406.94 571.09 171.18 571.29 389.88 571.49 178.99 571.68 411.57 571.88 228.88 572.07 364.86 572.27 249.23 572.47 368.09 572.66 247.57 572.86 354.97 573.05 370.67 573.25 177.57 573.45 197.07 573.64 235.64 573.8 464.5M573.87 464.5 574.04 243.47 574.23 259.36 574.43 358.53 574.62 256.03 574.82 356.52 575.02 156.87 575.21 191.24 575.41 242.75 575.6 430.37 575.8 278.93 576 421.61 576.19 404.97 576.39 409.54 576.58 384.4 576.78 376.39 576.98 418.18 577.17 225.99 577.37 351.23 577.56 282.96 577.76 307.6 577.96 375.04 578.15 223.38 578.35 370.43 578.54 236.7 578.74 365.4 578.94 265.47 579.13 333.91 579.33 352.01 579.53 401 579.72 383.05 579.92 377.2 580.11 401.31 580.31 245 580.51 349.57 580.7 256.83 580.9 331.54 581.09 218.8 581.29 361.95 581.49 228.34 581.68 231.82 581.88 416.34 582.07 219.62 582.27 380.93 582.47 222.31 582.66 231.43 582.86 347.04 583.05 234.76 583.25 374.73 583.45 255.44 583.64 337.42 583.84 253.99 584.02 464.5M584.05 464.5 584.23 192.63 584.43 354.16 584.62 234.84 584.82 375.74 585.01 373.1 585.21 416.14 585.41 399.2 585.6 390.53 585.8 406.83 586 414.44 586.19 163.94 586.39 318.27 586.58 223.17 586.78 417.1 586.98 298.24 587.17 367.06 587.37 271.84 587.56 240.23 587.76 387.46 587.96 380.2 588.15 166.91 588.35 210.03 588.54 351.56 588.74 229.35 588.94 332.81 589.13 354.74 589.33 383.39 589.52 435.73 589.72 409.81 589.92 387.11 590.11 195.72 590.31 380.69 590.5 255.41 590.7 368.56 590.9 235.17 591.09 398.48 591.29 448.54 591.48 177.01 591.68 398.55 591.88 206.63 592.07 444.18 592.27 260.97 592.47 424.42 592.66 220.31 592.86 224.02 593.05 380.45 593.25 210.22 593.45 399.73 593.64 206.03 593.84 375.32 594.03 379.64 594.23 349.87 594.43 364.23 594.62 376.56 594.82 393.79 595.01 269.4 595.21 417.2 595.41 228.48 595.59 464.5M595.61 464.5 595.8 265.71 595.99 385.36 596.19 259.22 596.39 342.74 596.58 284.78 596.78 387.59 596.97 248.95 597.17 225.2 597.37 301.58 597.56 350.72 597.76 373.13 597.96 256.98 598.15 386.03 598.35 359.62 598.54 234.48 598.74 403.16 598.94 218.76 599.13 371.66 599.33 227.57 599.52 459.34 599.72 265.18 599.92 426.65 600.11 228.51 600.31 354.89 600.5 259.53 600.7 362.56 600.9 172.94 601.09 402.61 601.29 251.61 601.48 364.03 601.68 235.27 601.88 274.7 602.07 395.49 602.27 248.36 602.46 378.56 602.66 152.87 602.86 342.4 603.05 175 603.25 411.71 603.44 260.74 603.64 358 603.84 227.61 604.03 343.58 604.23 427.71 604.43 350.72 604.62 148.69 604.8 464.5M604.86 464.5 605.01 330.72 605.21 264.63 605.41 253.15 605.6 426.12 605.8 217.72 605.99 376.1 606.19 176.68 606.39 132.98 606.58 410.3 606.78 395.91 606.97 238.79 607.17 361.14 607.37 272.91 607.56 365.5 607.76 254.21 607.95 336.9 608.15 155.78 608.35 144.09 608.54 408.2 608.74 222.64 608.93 371.64 609.13 268.31 609.33 392.04 609.52 276.03 609.72 245.78 609.92 353.02 610.11 160.48 610.31 161.44 610.5 369.89 610.7 259 610.9 329.07 611.09 209.59 611.29 361.21 611.48 257.56 611.68 388.51 611.78 464.5M611.92 464.5 612.07 215.23 612.27 229.03 612.46 375.45 612.66 255.21 612.86 376.23 613.05 262.64 613.25 384.01 613.44 247.08 613.64 226.46 613.84 389.44 614.03 262.51 614.23 427.02 614.42 233.64 614.62 379.27 614.82 239.94 615.01 407.32 615.21 262.48 615.4 432.45 615.6 244.21 615.8 203.09 615.99 395.87 616.19 409.51 616.39 251.97 616.57 464.5M616.6 464.5 616.78 272.82 616.97 410.17 617.17 258.8 617.37 377.83 617.56 213.84 617.76 339.67 617.95 356.99 618.15 246.55 618.35 201.01 618.54 383.18 618.74 359.52 618.93 257.08 619.13 385.65 619.33 379.68 619.52 373 619.72 365.02 619.91 380.82 620.11 236.43 620.31 425.19 620.5 258.18 620.7 329.26 620.89 254.55 621.09 228 621.29 360.68 621.48 138 621.68 152.24 621.88 175.78 622.07 379.3 622.27 255.92 622.46 377.8 622.66 204.2 622.86 373.99 623.05 203.81 623.25 403.6 623.44 343.88 623.64 157.14 623.84 222.05 624.03 375.25 624.23 244.18 624.42 382.95 624.62 268.51 624.82 388.72 625.01 422.2 625.21 367.97 625.4 359.41 625.6 375.6 625.8 382.29 625.99 400.94 626.19 261.35 626.38 278.32 626.58 249.36 626.78 369.51 626.97 180.81 627.17 377.07 627.36 210.77 627.56 346.35 627.76 232.43 627.95 397.53 628.15 252.02 628.35 362.08 628.54 270.94 628.74 396.23 628.93 217.77 629.12 464.5M629.15 464.5 629.33 398.71 629.52 266.74 629.66 464.5M629.77 464.5 629.91 277.59 630.11 278.8 630.31 385.12 630.49 464.5M630.52 464.5 630.7 366.55 630.89 253.36 631.09 383.33 631.29 262.36 631.48 405.98 631.68 264.85 631.87 238.85 632.07 226.12 632.27 390.02 632.46 265.6 632.66 390.01 632.85 247.86 633.05 345.44 633.25 252.09 633.44 244.94 633.64 343.14 633.84 233.51 634.03 370.02 634.23 262.68 634.42 370.61 634.62 205.08 634.82 220.96 635.01 351.77 635.21 259.28 635.4 378.25 635.6 233.45 635.8 235.43 635.99 229.74 636.19 370.91 636.38 175.98 636.58 386.51 636.78 210.03 636.97 384.96 637.17 243.05 637.3 464.5M637.43 464.5 637.56 246.78 637.76 263.64 637.95 365.88 638.15 170.49 638.34 375.31 638.54 182.66 638.74 363.49 638.93 238.19 639.13 378.15 639.32 245.8 639.52 464.5M639.52 464.5 639.72 229.98 639.91 384.36 640.11 156.35 640.31 408.65 640.5 223.72 640.7 236.53 640.89 381.73 641.09 240.61 641.29 403.54 641.48 234.13 641.68 379.91 641.87 164.85 642.07 430.52 642.27 369.25 642.46 361.65 642.66 400.55 642.85 366.29 643.05 431.79 643.25 263.75 643.44 353.68 643.64 177.18 643.83 376.12 644.03 217.94 644.23 416.92 644.42 273.13 644.62 360.6 644.81 208.41 645.01 354.15 645.21 237.66 645.4 217.44 645.6 358.45 645.8 227.44 645.99 386.52 646.19 429.88 646.38 372.52 646.58 387.14 646.78 335.67 646.97 376.84 647.17 250.8 647.36 358.37 647.56 246.53 647.76 457.5 647.95 369.61 648.15 236.65 648.34 347.65 648.54 264.94 648.74 380.53 648.93 258.49 649.13 384.47 649.32 225.72 649.52 399.96 649.72 429.94 649.91 253.1 650.11 385.14 650.3 395.99 650.5 396.67 650.7 386.66 650.89 376.61 651.09 190.38 651.28 385.55 651.48 203.62 651.68 342.66 651.87 264.5 652.07 369.83 652.27 386.09 652.46 383.74 652.66 232.33 652.85 382.41 653.05 154.68 653.25 349.93 653.44 189.41 653.64 402.51 653.83 248.81 654.03 231.18 654.23 396.9 654.42 217.38 654.62 428.11 654.81 158.09 655.01 444.28 655.21 180.21 655.4 381.34 655.6 262.88 655.79 433.75 655.99 251.98 656.19 372.99 656.38 167.19 656.58 125.03 656.77 349.98 656.97 182.55 657.17 392.41 657.36 233.33 657.56 389.82 657.76 308.84 657.95 247.92 658.15 363.25 658.34 148.96 658.54 351.47 658.74 153.17 658.93 357.41 659.13 256.11 659.32 439.01 659.52 351.16 659.72 260.25 659.91 368.29 660.11 207.19 660.3 389.83 660.5 156.06" stroke="#0000ff" stroke-width="0.8"/>
<path d="M72.5 316.21 72.64 464.5M72.78 464.5 72.89 383.86 73.09 449.23 73.28 418.52 73.38 464.5M73.55 464.5 73.68 385.66 73.86 464.5M74.35 464.5 74.46 391.31 74.66 463.41 74.85 452.66 74.89 464.5M75.11 464.5 75.24 362.47 75.35 464.5M75.53 464.5 75.64 347.31 75.83 456.55 75.86 464.5M76.12 464.5 76.23 397.43 76.42 399.14 76.54 464.5M76.88 464.5 77.01 330.69 77.21 460.41 77.4 416.04 77.56 464.5M77.67 464.5 77.79 443.23 77.87 464.5M78.26 464.5 78.38 420.84 78.58 391.94 78.71 464.5M78.83 464.5 78.97 362.62 79.16 464.5M79.43 464.5 79.56 455.6 79.58 464.5M79.83 464.5 79.95 341.76 80.07 464.5M80.22 464.5 80.34 344.3 80.46 464.5M80.61 464.5 80.73 308.94 80.93 462.3 80.95 464.5M81.18 464.5 81.32 393.97 81.52 451.67 81.57 464.5M82.04 464.5 82.11 439.84 82.3 427.72 82.5 450.86 82.7 355.99 82.84 464.5M82.93 464.5 83.09 328.13 83.26 464.5M83.31 464.5 83.48 326.06 83.62 464.5M83.73 464.5 83.87 309.97 84.03 464.5M84.47 464.5 84.66 324.84 84.85 442.41 85.05 397.88 85.2 464.5M85.46 464.5 85.64 398.51 85.8 464.5M86.08 464.5 86.22 329.64 86.35 464.5M86.5 464.5 86.62 348.72 86.79 464.5M86.84 464.5 87.01 330.24 87.13 464.5M87.89 464.5 87.99 366.68 88.18 464.5M88.19 464.5 88.38 390.6 88.58 449.72 88.61 464.5M89.06 464.5 89.17 381.49 89.36 462.81 89.56 375.23 89.73 464.5M89.79 464.5 89.95 417.56 90.05 464.5M90.3 464.5 90.34 452.56 90.37 464.5M90.67 464.5 90.73 432.54 90.83 464.5M90.99 464.5 91.13 391.82 91.21 464.5M91.39 464.5 91.52 284.65 91.68 464.5M91.77 464.5 91.91 352.45 92.05 464.5M92.15 464.5 92.3 329.81 92.5 422.88 92.69 430.72 92.89 453.36 93.09 304.85 93.28 382.13 93.39 464.5M93.54 464.5 93.68 323.22 93.87 448.52 94.07 289.71 94.19 464.5M94.35 464.5 94.46 350.39 94.64 464.5M94.67 464.5 94.85 325.91 95.04 464.5M95.06 464.5 95.24 347.42 95.43 464.5M95.45 464.5 95.64 379.16 95.8 464.5M95.86 464.5 96.03 346.38 96.22 377.08 96.42 331.13 96.62 373.84 96.81 286.47 97.01 387.55 97.2 277.29 97.4 425.32 97.6 408.73 97.79 324.86 97.99 293.37 98.15 464.5M98.24 464.5 98.38 351.17 98.58 463.16 98.77 261.53 98.97 443.03 99.16 187.96 99.36 456.29 99.56 271.07 99.75 332.25 99.95 390.73 100.15 352.72 100.34 186.07 100.54 444.17 100.73 385.48 100.89 464.5M101.35 464.5 101.52 172.62 101.71 331.78 101.91 333.36 102.11 273.51 102.3 354.83 102.5 283.79 102.69 310.06 102.89 245.15 103.09 332.1 103.28 352.48 103.48 286.15 103.67 333.66 103.87 347 104.07 318.45 104.26 331.31 104.46 286.63 104.65 336.19 104.85 247.5 105.05 329.06 105.24 250.85 105.44 327.74 105.64 268.34 105.83 330.68 106.03 324.29 106.22 433.96 106.42 328.48 106.62 382.92 106.81 266.14 107.01 366.91 107.2 338.01 107.4 400.29 107.6 181.16 107.79 395.32 107.99 320.28 108.18 381.26 108.38 275.57 108.58 401.23 108.77 230.71 108.97 356.04 109.16 312.55 109.36 401.2 109.56 326.74 109.75 202.51 109.95 392.41 110.14 183.82 110.34 380.6 110.54 268.77 110.73 292.15 110.93 182.82 111.12 292.15 111.32 125.15 111.52 383.62 111.71 371.5 111.91 340.9 112.11 345.76 112.3 277.07 112.5 176.4 112.69 395.42 112.89 179.76 113.09 123.57 113.28 111.96 113.48 41.45 113.67 79.31 113.87 206.52 114.07 98.9 114.26 110.44 114.46 384.37 114.65 113.5 114.85 397.31 115.05 96.68 115.24 142.52 115.44 402.19 115.63 151.8 115.83 400.01 116.03 416.71 116.22 406.17 116.42 256.27 116.61 413.59 116.81 179.73 117.01 433.45 117.2 165.57 117.4 424.97 117.6 299.11 117.79 380.71 117.99 296.12 118.18 389.16 118.38 265.54 118.58 398.01 118.77 211.48 118.97 460.72 119.16 230.06 119.36 252.59 119.56 418.86 119.75 208.26 119.95 399.23 120.14 291.61 120.34 419.55 120.54 399.88 120.73 382.15 120.93 402.32 121.12 388.9 121.32 389.77 121.52 383.38 121.71 464.5M121.71 464.5 121.91 245.76 122.1 454.63 122.3 270.71 122.5 360.81 122.69 335.49 122.89 280.04 123.08 457.48 123.28 265.15 123.48 423.46 123.67 320.23 123.87 398.46 124.07 247.4 124.26 448.49 124.46 287.55 124.64 464.5M124.67 464.5 124.85 325.52 125.05 452.91 125.1 464.5M125.28 464.5 125.44 359.74 125.63 463.46 125.83 306.85 126.03 426.39 126.22 363.28 126.42 457.04 126.61 437.36 126.81 363.32 127.01 337.32 127.2 450.69 127.4 357.97 127.59 314.47 127.79 306.39 127.96 464.5M128.04 464.5 128.18 382.61 128.38 416.09 128.57 390.17 128.75 464.5M128.81 464.5 128.97 428.23 129.16 422.7 129.36 344.58 129.56 435.32 129.75 433.43 129.95 333.05 130.14 393.8 130.34 377.26 130.54 431.93 130.73 393.33 130.93 428.54 131.12 445.74 131.32 336.44 131.52 284.02 131.65 464.5M131.84 464.5 131.91 417.66 131.99 464.5M132.57 464.5 132.69 360.01 132.86 464.5M132.94 464.5 133.08 421.9 133.15 464.5M133.38 464.5 133.48 385.83 133.67 453.47 133.87 373.52 134.06 462.45 134.07 464.5M134.56 464.5 134.65 438.94 134.73 464.5M134.91 464.5 135.04 366.33 135.24 431.04 135.44 376.65 135.63 427.58 135.83 424.3 135.89 464.5M136.12 464.5 136.22 366.24 136.41 464.5M136.42 464.5 136.61 330.68 136.81 462.13 136.82 464.5M137.06 464.5 137.2 351.82 137.4 461.78 137.44 464.5M138.09 464.5 138.18 443.86 138.38 400.2 138.57 387.72 138.77 406.36 138.97 405.59 139.16 377.26 139.29 464.5M139.46 464.5 139.55 418.83 139.69 464.5M140.05 464.5 140.14 388.33 140.34 399.81 140.53 397.85 140.73 412.7 140.87 464.5M140.95 464.5 141.12 351.48 141.25 464.5M141.42 464.5 141.52 403.17 141.65 464.5M141.79 464.5 141.91 422.74 142.1 452.67 142.3 378.37 142.5 424.12 142.63 464.5M143.4 464.5 143.48 427.11 143.67 396.91 143.76 464.5M143.99 464.5 144.06 417.91 144.26 370.92 144.46 446.73 144.51 464.5M144.76 464.5 144.85 424.67 145 464.5M145.15 464.5 145.24 454.33 145.44 384.33 145.54 464.5M145.74 464.5 145.83 399.96 145.92 464.5M146.14 464.5 146.22 407.59 146.42 450.1 146.61 418.13 146.81 439.03 147 433.17 147.1 464.5M147.47 464.5 147.59 413.69 147.78 464.5M147.82 464.5 147.99 448.35 148.01 464.5M148.31 464.5 148.38 413.51 148.57 450.79 148.77 361.03 148.96 464.5M149.2 464.5 149.36 334.43 149.5 464.5M149.99 464.5 150.14 408.41 150.3 464.5M151.42 464.5 151.51 392.84 151.59 464.5M152.04 464.5 152.1 457.51 152.14 464.5M152.38 464.5 152.49 428.43 152.61 464.5M152.74 464.5 152.89 382.09 152.99 464.5M153.24 464.5 153.28 448.2 153.33 464.5M154.16 464.5 154.26 406.76 154.41 464.5M154.74 464.5 154.85 354.41 155.03 464.5M155.38 464.5 155.44 445.75 155.63 397.31 155.83 424.22 155.96 464.5M156.16 464.5 156.22 456.3 156.42 394.32 156.56 464.5M156.71 464.5 156.81 436.86 156.87 464.5M157.11 464.5 157.2 417.76 157.28 464.5M157.49 464.5 157.59 386.15 157.71 464.5M158.05 464.5 158.18 393.03 158.36 464.5M158.41 464.5 158.57 425.75 158.77 464.42 158.78 464.5M158.97 464.5 159.16 335.56 159.29 464.5M159.69 464.5 159.75 418.16 159.95 430.25 160.03 464.5M160.53 464.5 160.53 462.34 160.54 464.5M160.81 464.5 160.93 409.14 161.01 464.5M161.25 464.5 161.32 418.91 161.49 464.5M161.77 464.5 161.91 361.46 162.1 464.5M162.11 464.5 162.3 408.33 162.42 464.5M162.54 464.5 162.69 338.34 162.85 464.5M163.11 464.5 163.28 380.75 163.47 452.21 163.61 464.5M164.43 464.5 164.45 448.12 164.5 464.5M164.76 464.5 164.85 422.05 164.94 464.5M165.31 464.5 165.43 369.3 165.56 464.5M165.8 464.5 165.83 457.26 166.02 374.5 166.14 464.5M166.8 464.5 166.81 458.75 167 449.84 167.2 413.93 167.35 464.5M167.42 464.5 167.59 376.54 167.72 464.5M168.39 464.5 168.57 385.72 168.75 464.5M168.79 464.5 168.96 391.97 169.11 464.5M169.21 464.5 169.36 397.4 169.55 424.38 169.65 464.5M169.95 464.5 170.14 350.98 170.3 464.5M170.41 464.5 170.53 421.33 170.62 464.5M170.85 464.5 170.92 424.09 171.12 403.93 171.32 451.35 171.51 455.24 171.53 464.5M171.97 464.5 172.1 393.17 172.3 418.8 172.49 426.71 172.69 364.12 172.81 464.5M172.95 464.5 173.08 326.86 173.2 464.5M173.49 464.5 173.67 436.03 173.87 431.59 173.93 464.5M174.34 464.5 174.45 355.81 174.59 464.5M174.71 464.5 174.85 368.25 174.95 464.5M175.13 464.5 175.24 359.72 175.43 464.5M175.47 464.5 175.63 449.67 175.76 464.5M175.89 464.5 176.02 448.7 176.08 464.5M176.31 464.5 176.41 419.02 176.53 464.5M176.66 464.5 176.81 364.84 176.95 464.5M177.11 464.5 177.2 437.43 177.28 464.5M177.71 464.5 177.79 416.24 177.98 448.99 178.15 464.5M178.19 464.5 178.38 398.73 178.46 464.5M178.64 464.5 178.77 326.9 178.94 464.5M179.02 464.5 179.16 423.66 179.27 464.5M179.43 464.5 179.55 414.71 179.71 464.5M179.77 464.5 179.94 379.33 180.04 464.5M180.26 464.5 180.34 416.19 180.53 426.72 180.73 450.55 180.92 357.73 181.12 431.97 181.32 407.8 181.51 461.88 181.52 464.5M181.96 464.5 182.1 302.29 182.3 335.05 182.44 464.5M182.56 464.5 182.69 379.19 182.79 464.5M183.03 464.5 183.08 433.09 183.19 464.5M183.32 464.5 183.47 377.42 183.62 464.5M183.8 464.5 183.87 447.69 183.91 464.5M184.29 464.5 184.45 397.13 184.65 364.46 184.83 464.5M184.86 464.5 185.04 401.99 185.13 464.5M185.31 464.5 185.43 344.97 185.63 386.38 185.83 419.96 186.02 402.07 186.12 464.5M186.58 464.5 186.61 461.91 186.65 464.5M186.86 464.5 187 439.81 187.11 464.5M187.22 464.5 187.39 329.2 187.57 464.5M187.65 464.5 187.79 430.76 187.98 464.5M187.98 464.5 188.18 388.25 188.3 464.5M188.5 464.5 188.57 437.91 188.77 422.11 188.84 464.5M189.44 464.5 189.55 358.76 189.7 464.5M189.82 464.5 189.94 399.87 190.13 464.5M190.39 464.5 190.53 322.02 190.66 464.5M191.24 464.5 191.32 362.86 191.48 464.5M192.18 464.5 192.3 402.68 192.47 464.5M192.79 464.5 192.88 429.3 192.94 464.5M193.21 464.5 193.28 410.13 193.41 464.5M193.55 464.5 193.67 420.11 193.86 439.36 193.94 464.5M194.17 464.5 194.26 429.8 194.45 396.33 194.58 464.5M194.7 464.5 194.84 369.61 195.04 377.33 195.17 464.5M195.36 464.5 195.43 435.77 195.49 464.5M195.74 464.5 195.83 402.63 195.94 464.5M196.26 464.5 196.41 295.5 196.56 464.5M196.68 464.5 196.81 365.39 196.92 464.5M197.1 464.5 197.2 397.88 197.36 464.5M197.45 464.5 197.59 428.87 197.68 464.5M197.86 464.5 197.98 399.21 198.08 464.5M198.89 464.5 198.96 361.48 199.11 464.5M199.58 464.5 199.75 348.53 199.92 464.5M199.96 464.5 200.14 348.68 200.27 464.5M200.38 464.5 200.53 303.93 200.68 464.5M200.79 464.5 200.92 353.73 201.06 464.5M201.21 464.5 201.31 413.55 201.4 464.5M201.59 464.5 201.71 360.4 201.89 464.5M201.92 464.5 202.1 389.33 202.3 453.72 202.49 365.16 202.66 464.5M202.79 464.5 202.88 450.82 203.08 369.38 203.28 382.99 203.47 463.44 203.67 401.89 203.83 464.5M203.93 464.5 204.06 438.57 204.26 460.79 204.32 464.5M204.48 464.5 204.65 414.33 204.77 464.5M204.89 464.5 205.04 363.23 205.24 455.41 205.43 433.53 205.49 464.5M205.71 464.5 205.82 349.45 206.01 464.5M206.48 464.5 206.61 340.48 206.74 464.5M207.17 464.5 207.2 447.86 207.27 464.5M207.89 464.5 207.98 391.43 208.15 464.5M208.2 464.5 208.37 356.17 208.51 464.5M208.64 464.5 208.77 373.38 208.93 464.5M209.16 464.5 209.35 330.46 209.52 464.5M209.71 464.5 209.75 459.26 209.76 464.5M210.41 464.5 210.53 396.56 210.63 464.5M211.04 464.5 211.12 414.72 211.19 464.5M211.39 464.5 211.51 338.72 211.71 417.19 211.9 421.81 212.08 464.5M212.54 464.5 212.69 338.54 212.82 464.5M213.02 464.5 213.08 437.24 213.13 464.5M213.41 464.5 213.47 428.81 213.54 464.5M213.73 464.5 213.86 328.99 214.06 392.09 214.16 464.5M214.38 464.5 214.45 421.4 214.56 464.5M214.84 464.5 214.84 463.39 214.86 464.5M215.1 464.5 215.24 445.15 215.43 439.12 215.63 404.27 215.79 464.5M216.1 464.5 216.22 383.35 216.41 426.1 216.54 464.5M216.64 464.5 216.8 373.8 216.97 464.5M217.11 464.5 217.2 448.37 217.39 404.7 217.5 464.5M217.65 464.5 217.78 353.33 217.98 464.5M217.99 464.5 218.18 363.19 218.31 464.5M218.8 464.5 218.96 392.12 219.16 409.57 219.35 425.55 219.55 456.81 219.75 354.65 219.94 456.11 220.14 430.18 220.2 464.5M220.43 464.5 220.53 394.23 220.69 464.5M221.36 464.5 221.51 296.31 221.66 464.5M221.78 464.5 221.9 374.8 222.09 464.5M222.1 464.5 222.29 414.38 222.49 449.58 222.69 317.51 222.88 417.17 223.01 464.5M223.13 464.5 223.27 398.99 223.42 464.5M223.73 464.5 223.86 355.82 224.05 464.5M224.07 464.5 224.25 392.25 224.35 464.5M224.94 464.5 225.04 426.85 225.17 464.5M225.27 464.5 225.43 387.58 225.63 428.74 225.81 464.5M226.05 464.5 226.22 358.57 226.34 464.5M226.54 464.5 226.61 430.43 226.67 464.5M227 464.5 227 464.47 227 464.5M227.35 464.5 227.39 436.53 227.48 464.5M227.63 464.5 227.78 350.43 227.95 464.5M228.41 464.5 228.57 354.59 228.66 464.5M229.33 464.5 229.35 461.91 229.36 464.5M229.72 464.5 229.74 446.9 229.79 464.5M230.03 464.5 230.14 387.37 230.33 451.86 230.53 409.15 230.7 464.5M230.96 464.5 231.12 443.35 231.2 464.5M231.36 464.5 231.51 374.15 231.65 464.5M231.86 464.5 231.9 455.71 232.1 442.24 232.29 429.46 232.49 444.31 232.69 455.18 232.88 385.51 233.08 381.95 233.18 464.5M233.77 464.5 233.86 422.95 233.97 464.5M234.37 464.5 234.45 442.91 234.65 454.66 234.69 464.5M235.7 464.5 235.82 404.09 235.96 464.5M236.06 464.5 236.21 372.51 236.41 462.22 236.42 464.5M237.06 464.5 237.19 349.2 237.32 464.5M237.47 464.5 237.59 364.89 237.75 464.5M237.81 464.5 237.98 354.76 238.18 456.53 238.37 441.66 238.49 464.5M238.66 464.5 238.76 446.83 238.9 464.5M238.98 464.5 239.16 413.07 239.24 464.5M239.47 464.5 239.55 424.91 239.65 464.5M240.17 464.5 240.33 352.86 240.45 464.5M240.68 464.5 240.72 443.52 240.92 451.85 241.12 381.54 241.21 464.5M241.43 464.5 241.51 404.28 241.67 464.5M241.73 464.5 241.9 390.13 242.06 464.5M242.16 464.5 242.29 427.19 242.49 446.57 242.53 464.5M242.81 464.5 242.88 431.34 242.93 464.5M243.34 464.5 243.47 352.67 243.6 464.5M244 464.5 244.06 427.36 244.15 464.5M244.35 464.5 244.45 422.67 244.6 464.5M244.7 464.5 244.84 433.12 245.04 440.95 245.23 400.26 245.43 464.5M245.43 464.5 245.63 392.68 245.77 464.5M245.89 464.5 246.02 413.54 246.1 464.5M246.69 464.5 246.8 388.76 246.93 464.5M247.15 464.5 247.19 454.75 247.3 464.5M247.43 464.5 247.59 432.62 247.73 464.5M247.81 464.5 247.98 387.41 248.14 464.5M248.27 464.5 248.37 447.37 248.57 398.27 248.76 394.07 248.88 464.5M249.01 464.5 249.15 341.95 249.3 464.5M249.5 464.5 249.55 450.88 249.58 464.5M250.2 464.5 250.33 355.27 250.53 440.86 250.72 427.95 250.81 464.5M250.97 464.5 251.12 317.71 251.27 464.5M251.63 464.5 251.7 449.3 251.73 464.5M252.18 464.5 252.29 388.75 252.39 464.5M252.64 464.5 252.68 438.73 252.88 425.93 252.95 464.5M253.16 464.5 253.27 362.22 253.47 457.98 253.66 393.32 253.86 356.92 253.99 464.5M254.19 464.5 254.25 438.08 254.45 462.86 254.64 373.89 254.82 464.5M254.87 464.5 255.04 374.74 255.23 452.51 255.43 350.77 255.61 464.5M255.99 464.5 256.02 457.72 256.21 459.68 256.41 342.75 256.56 464.5M256.67 464.5 256.8 394.39 256.92 464.5M257.08 464.5 257.19 396.92 257.26 464.5M257.49 464.5 257.59 341.6 257.78 451.21 257.98 378.49 258.09 464.5M258.26 464.5 258.37 378.5 258.47 464.5M258.65 464.5 258.76 369.63 258.96 409.39 259.15 438.63 259.22 464.5M259.4 464.5 259.55 306.67 259.69 464.5M260.02 464.5 260.13 416.43 260.21 464.5M260.45 464.5 260.53 411.23 260.62 464.5M260.8 464.5 260.92 357.37 261.07 464.5M261.18 464.5 261.31 385.39 261.51 346.21 261.7 431.77 261.9 382.94 262.1 426.7 262.28 464.5M262.3 464.5 262.49 413.98 262.63 464.5M262.73 464.5 262.88 399.31 263.08 439.41 263.27 440.97 263.47 340.6 263.66 439.55 263.86 375.44 264.03 464.5M264.08 464.5 264.25 351.28 264.44 464.5M265.16 464.5 265.23 426.3 265.33 464.5M265.94 464.5 266.02 440.66 266.08 464.5M266.64 464.5 266.8 434.42 267 408.1 267.19 361.28 267.36 464.5M267.48 464.5 267.59 441.07 267.63 464.5M267.85 464.5 267.98 307.8 268.12 464.5M268.25 464.5 268.37 387.89 268.5 464.5M268.87 464.5 268.96 432.74 269.02 464.5M269.22 464.5 269.35 337.93 269.48 464.5M270.02 464.5 270.13 335.67 270.3 464.5M270.47 464.5 270.53 452.67 270.57 464.5M270.81 464.5 270.92 418.28 271.11 426.51 271.2 464.5M271.39 464.5 271.51 396.98 271.67 464.5M271.75 464.5 271.9 415.14 271.99 464.5M272.56 464.5 272.68 402.3 272.88 432.92 273.07 464.01 273.08 464.5M273.39 464.5 273.47 450.6 273.66 464.15 273.86 388.93 273.97 464.5M274.16 464.5 274.25 417 274.45 464.5M274.45 464.5 274.64 430.34 274.73 464.5M274.9 464.5 275.04 367.22 275.18 464.5M275.53 464.5 275.62 436.98 275.82 365.27 275.98 464.5M276.13 464.5 276.21 446.3 276.41 430.13 276.6 413.75 276.8 435.17 277 418.52 277.13 464.5M277.24 464.5 277.39 390.96 277.51 464.5M277.65 464.5 277.78 359.88 277.98 417.12 278.13 464.5M278.2 464.5 278.37 378.38 278.54 464.5M278.59 464.5 278.76 358.83 278.96 433.32 279.15 345.34 279.3 464.5M279.4 464.5 279.55 357.15 279.71 464.5M279.78 464.5 279.94 378.14 280.11 464.5M280.6 464.5 280.72 393.88 280.89 464.5M280.96 464.5 281.11 420.05 281.17 464.5M281.42 464.5 281.51 381.81 281.61 464.5M281.83 464.5 281.9 420.88 282.09 427.93 282.29 384.36 282.49 455.2 282.68 438.05 282.74 464.5M283.37 464.5 283.47 399.14 283.55 464.5M283.84 464.5 283.86 456.12 283.87 464.5M284.2 464.5 284.25 430.59 284.36 464.5M284.5 464.5 284.64 391.45 284.76 464.5M285.26 464.5 285.43 394.8 285.53 464.5M285.95 464.5 286.02 450.98 286.15 464.5M286.47 464.5 286.6 364.78 286.73 464.5M286.88 464.5 287 390.53 287.19 453.61 287.39 459.2 287.4 464.5M287.67 464.5 287.78 390.82 287.98 426.55 288.05 464.5M288.25 464.5 288.37 369.14 288.56 445.96 288.76 442.96 288.92 464.5M288.98 464.5 289.15 418 289.35 458.3 289.38 464.5M289.6 464.5 289.74 375.86 289.82 464.5M290.11 464.5 290.13 446.95 290.17 464.5M291.06 464.5 291.11 451.14 291.17 464.5M291.46 464.5 291.51 454.13 291.53 464.5M291.79 464.5 291.9 345.42 292.02 464.5M292.23 464.5 292.29 437.31 292.44 464.5M292.55 464.5 292.68 450.8 292.74 464.5M292.94 464.5 293.07 389.95 293.17 464.5M293.7 464.5 293.86 377.63 293.94 464.5M295.13 464.5 295.23 409.57 295.39 464.5M295.45 464.5 295.62 376.18 295.74 464.5M296 464.5 296.01 457.67 296.03 464.5M296.38 464.5 296.41 453.72 296.43 464.5M296.87 464.5 296.99 363.28 297.19 464.5M297.7 464.5 297.78 436.95 297.98 392.78 298.17 396.1 298.25 464.5M298.52 464.5 298.56 431.53 298.76 414.45 298.96 399.74 299.15 442.4 299.35 428.88 299.49 464.5M299.83 464.5 299.94 364.92 300.13 453.29 300.33 462.88 300.52 424.05 300.72 430.95 300.92 457.84 301.04 464.5M301.12 464.5 301.31 406.5 301.45 464.5M301.66 464.5 301.7 458 301.9 433.3 302.09 365.97 302.21 464.5M302.41 464.5 302.48 423.62 302.68 414.88 302.8 464.5M303.1 464.5 303.27 376.69 303.43 464.5M303.6 464.5 303.66 456.15 303.68 464.5M304.28 464.5 304.45 365.37 304.57 464.5M304.82 464.5 304.84 459.87 305.03 419.77 305.16 464.5M305.26 464.5 305.43 351.67 305.54 464.5M305.77 464.5 305.82 439.72 305.86 464.5M306.19 464.5 306.21 452.79 306.23 464.5M306.5 464.5 306.6 378.46 306.75 464.5M306.83 464.5 306.99 312.91 307.17 464.5M307.39 464.5 307.39 464.38 307.58 391 307.73 464.5M307.84 464.5 307.97 404.98 308.17 424.84 308.37 456.58 308.56 399.33 308.67 464.5M308.87 464.5 308.95 421.56 309.15 446.54 309.35 411.53 309.46 464.5M309.6 464.5 309.74 372.2 309.94 449.5 310.13 430.83 310.2 464.5M310.42 464.5 310.52 381.72 310.68 464.5M311.05 464.5 311.11 419.79 311.31 448.2 311.42 464.5M311.52 464.5 311.7 360.61 311.9 453.77 311.92 464.5M312.2 464.5 312.29 389.5 312.4 464.5M312.79 464.5 312.88 405.78 312.96 464.5M313.16 464.5 313.27 378.33 313.41 464.5M313.75 464.5 313.86 422.45 313.97 464.5M314.09 464.5 314.25 328.96 314.41 464.5M314.52 464.5 314.64 424.3 314.71 464.5M314.96 464.5 315.03 422.66 315.14 464.5M315.3 464.5 315.42 401.8 315.62 393.28 315.73 464.5M316.08 464.5 316.21 332.37 316.35 464.5M316.45 464.5 316.6 305.04 316.75 464.5M316.88 464.5 316.99 396.85 317.11 464.5M317.28 464.5 317.39 408.81 317.58 456.34 317.78 423.3 317.88 464.5M318.04 464.5 318.17 394.07 318.3 464.5M318.93 464.5 318.95 457.47 318.98 464.5M319.23 464.5 319.35 398.02 319.54 392.68 319.74 330.44 319.89 464.5M320.03 464.5 320.13 418.47 320.33 462.75 320.34 464.5M320.95 464.5 321.11 383.19 321.27 464.5M321.61 464.5 321.7 408.34 321.9 462.76 322.09 370.97 322.26 464.5M322.75 464.5 322.88 445.84 322.92 464.5M323.38 464.5 323.46 399.91 323.66 447.42 323.86 454.05 323.88 464.5M324.13 464.5 324.25 374.17 324.41 464.5M324.48 464.5 324.64 364.32 324.79 464.5M324.95 464.5 325.03 441.11 325.23 464.06 325.42 342.02 325.61 464.5M325.64 464.5 325.82 428.45 326 464.5M326.02 464.5 326.21 370.08 326.34 464.5M326.52 464.5 326.6 429.75 326.8 418.78 326.99 412.74 327.1 464.5M327.33 464.5 327.38 447.22 327.58 384.67 327.78 428.81 327.97 449.25 328.01 464.5M328.31 464.5 328.37 441.11 328.42 464.5M328.62 464.5 328.76 308.46 328.92 464.5M329 464.5 329.15 370.21 329.26 464.5M329.41 464.5 329.54 331.26 329.71 464.5M329.76 464.5 329.93 325.11 330.05 464.5M330.26 464.5 330.33 418.56 330.52 413.8 330.67 464.5M331.17 464.5 331.31 344.85 331.41 464.5M331.65 464.5 331.7 429.41 331.89 363.2 332.03 464.5M332.34 464.5 332.48 324.46 332.63 464.5M332.76 464.5 332.87 388.62 333.02 464.5M333.17 464.5 333.27 435.66 333.37 464.5M333.77 464.5 333.86 460.24 333.87 464.5M334.11 464.5 334.25 359.05 334.37 464.5M334.63 464.5 334.64 463.02 334.84 406.78 334.96 464.5M335.13 464.5 335.23 427.38 335.42 458.55 335.62 443.25 335.82 364.14 335.94 464.5M336.13 464.5 336.21 423.23 336.4 455.38 336.6 427.15 336.68 464.5M336.91 464.5 336.99 423.77 337.07 464.5M337.55 464.5 337.58 449.44 337.78 450.84 337.86 464.5M338.67 464.5 338.76 398.99 338.87 464.5M339.36 464.5 339.54 427.43 339.74 446.18 339.93 391.94 340.13 398.14 340.31 464.5M340.34 464.5 340.52 406.12 340.72 423.82 340.91 432.44 341.11 459.42 341.31 384.72 341.5 446.44 341.7 405.84 341.81 464.5M342.35 464.5 342.48 351.12 342.61 464.5M342.78 464.5 342.87 409.33 342.97 464.5M343.16 464.5 343.27 402.57 343.43 464.5M343.76 464.5 343.85 353.6 343.97 464.5M344.27 464.5 344.44 410.27 344.51 464.5M344.77 464.5 344.83 418.27 345.03 445.93 345.12 464.5M345.28 464.5 345.42 406.15 345.62 345.32 345.82 442.95 345.86 464.5M346.69 464.5 346.8 386.67 346.9 464.5M347.07 464.5 347.19 350.78 347.31 464.5M347.51 464.5 347.58 421.63 347.78 386.23 347.87 464.5M348.43 464.5 348.56 354.32 348.69 464.5M349.07 464.5 349.15 379.63 349.27 464.5M349.52 464.5 349.54 457.68 349.74 387.05 349.86 464.5M350.19 464.5 350.32 399.6 350.49 464.5M350.55 464.5 350.72 372.73 350.91 402.79 351.11 418.65 351.3 443.71 351.5 462.08 351.51 464.5M351.98 464.5 352.09 424.49 352.29 372.32 352.4 464.5M352.67 464.5 352.68 462.8 352.87 400.81 353.01 464.5M353.37 464.5 353.46 415.98 353.66 463.45 353.67 464.5M353.92 464.5 354.05 426.77 354.12 464.5M354.68 464.5 354.83 390.6 355.03 361.74 355.23 438.41 355.42 416.91 355.62 356.33 355.75 464.5M356.46 464.5 356.6 349.38 356.73 464.5M356.91 464.5 356.99 419.5 357.19 435.55 357.38 335.68 357.52 464.5M357.66 464.5 357.78 386.56 357.91 464.5M358.45 464.5 358.56 398.43 358.66 464.5M359.27 464.5 359.34 428.12 359.45 464.5M359.73 464.5 359.74 463.58 359.93 356.01 360.06 464.5M361.69 464.5 361.7 461.11 361.89 406.27 362.09 427.5 362.16 464.5M362.44 464.5 362.48 446.26 362.54 464.5M363.34 464.5 363.46 395.05 363.61 464.5M363.73 464.5 363.85 417.87 364.02 464.5M364.15 464.5 364.25 455 364.44 441.3 364.49 464.5M364.81 464.5 364.83 456.59 365.03 427.47 365.12 464.5M365.76 464.5 365.81 430.22 365.88 464.5M366.11 464.5 366.21 392.44 366.4 408.96 366.5 464.5M366.7 464.5 366.79 410.5 366.99 417.1 367.07 464.5M367.31 464.5 367.38 426.29 367.57 464.5M367.76 464.5 367.77 464.32 367.78 464.5M368.23 464.5 368.36 383.39 368.5 464.5M368.62 464.5 368.75 381.55 368.95 364.47 369.15 450.07 369.34 376.91 369.54 343.88 369.74 440.9 369.93 382.89 370.06 464.5M370.25 464.5 370.32 438.33 370.39 464.5M370.77 464.5 370.91 424.49 371.02 464.5M371.48 464.5 371.5 459.38 371.53 464.5M371.76 464.5 371.89 389.72 372.09 425.21 372.28 412.91 372.39 464.5M372.73 464.5 372.87 452.56 372.99 464.5M373.09 464.5 373.26 385.62 373.37 464.5M373.52 464.5 373.66 330.16 373.81 464.5M373.92 464.5 374.05 395.88 374.24 445.71 374.44 380.19 374.59 464.5M374.69 464.5 374.83 385.22 374.97 464.5M375.08 464.5 375.22 345.49 375.42 455.66 375.62 352.21 375.79 464.5M375.83 464.5 376.01 368.16 376.12 464.5M376.3 464.5 376.4 386.42 376.6 458.19 376.79 426.87 376.99 381.57 377.08 464.5M377.48 464.5 377.58 402.44 377.68 464.5M377.87 464.5 377.97 406.87 378.11 464.5M378.3 464.5 378.36 453.3 378.56 452.74 378.75 424.46 378.8 464.5M379.78 464.5 379.93 342.46 380.13 408.05 380.32 413.49 380.4 464.5M380.68 464.5 380.71 450.04 380.74 464.5M381.04 464.5 381.11 411.92 381.25 464.5M381.35 464.5 381.5 398.07 381.7 433.14 381.89 382 382.05 464.5M382.22 464.5 382.28 454.25 382.48 420.93 382.68 361.61 382.86 464.5M382.9 464.5 383.07 440.37 383.26 443.96 383.46 347.32 383.59 464.5M383.75 464.5 383.85 391.01 384 464.5M384.1 464.5 384.24 393.55 384.44 433.17 384.56 464.5M384.87 464.5 385.03 405.25 385.12 464.5M385.35 464.5 385.42 426.45 385.62 432.35 385.68 464.5M385.89 464.5 386.01 362.26 386.18 464.5M387.27 464.5 387.38 412.6 387.49 464.5M387.92 464.5 387.97 415.06 388.17 459.75 388.36 394 388.47 464.5M388.63 464.5 388.75 369.49 388.95 442.29 389.15 420.94 389.34 453.27 389.37 464.5M389.6 464.5 389.73 343.44 389.87 464.5M390.36 464.5 390.52 386.5 390.69 464.5M390.73 464.5 390.91 375.6 391.04 464.5M391.49 464.5 391.5 453.32 391.58 464.5M392.04 464.5 392.09 450.59 392.14 464.5M392.35 464.5 392.48 402.93 392.58 464.5M392.73 464.5 392.87 323.52 392.98 464.5M393.17 464.5 393.26 373.84 393.41 464.5M393.51 464.5 393.66 378.84 393.79 464.5M393.92 464.5 394.05 400.17 394.24 363.93 394.35 464.5M394.62 464.5 394.64 458.58 394.72 464.5M394.85 464.5 395.03 399.56 395.19 464.5M395.24 464.5 395.42 339.06 395.54 464.5M395.76 464.5 395.81 433.15 395.88 464.5M396.1 464.5 396.2 393.12 396.3 464.5M396.48 464.5 396.6 356.15 396.79 449.33 396.99 440.41 397.16 464.5M397.19 464.5 397.38 365.44 397.58 407.92 397.77 429.68 397.97 394.24 398.08 464.5M398.24 464.5 398.36 374.42 398.56 404.31 398.75 418.4 398.9 464.5M399.01 464.5 399.14 429.99 399.24 464.5M399.4 464.5 399.54 378.02 399.73 464.3 399.93 305.62 400.05 464.5M400.25 464.5 400.32 413.92 400.47 464.5M400.55 464.5 400.71 374.83 400.9 464.5M401.35 464.5 401.5 383.19 401.69 462.39 401.89 366.5 401.99 464.5M402.25 464.5 402.28 443.96 402.48 433.96 402.63 464.5M402.7 464.5 402.87 404.33 403.07 449.57 403.26 371.74 403.46 417.56 403.53 464.5M403.79 464.5 403.85 432.81 404.05 344.67 404.17 464.5M404.39 464.5 404.44 442.25 404.58 464.5M404.65 464.5 404.83 383.01 405 464.5M405.29 464.5 405.42 368.41 405.55 464.5M406.56 464.5 406.6 459.78 406.79 378.61 406.99 436.98 407.18 379.53 407.38 441.77 407.46 464.5M407.63 464.5 407.77 362.78 407.87 464.5M408.11 464.5 408.16 422.75 408.25 464.5M409.11 464.5 409.14 452.35 409.34 419.5 409.47 464.5M409.57 464.5 409.73 353.64 409.86 464.5M410.05 464.5 410.12 430.22 410.19 464.5M410.42 464.5 410.52 399.6 410.66 464.5M411.17 464.5 411.3 342.83 411.5 455.41 411.69 324.75 411.82 464.5M412.03 464.5 412.09 432.51 412.28 458.23 412.31 464.5M412.54 464.5 412.67 373.08 412.79 464.5M412.96 464.5 413.07 390.93 413.26 464.5M413.26 464.5 413.46 360.04 413.65 393.72 413.77 464.5M414 464.5 414.05 450.24 414.24 431 414.44 451.46 414.5 464.5M414.71 464.5 414.83 423.35 414.94 464.5M415.16 464.5 415.22 451.32 415.26 464.5M416.07 464.5 416.2 404.05 416.31 464.5M416.47 464.5 416.59 373.5 416.79 457.4 416.99 357.16 417.15 464.5M417.36 464.5 417.38 461.75 417.58 458.01 417.77 452.7 417.97 410.34 418.15 464.5M418.19 464.5 418.36 434.74 418.56 443.92 418.6 464.5M418.82 464.5 418.95 337.99 419.09 464.5M419.21 464.5 419.34 367.34 419.46 464.5M419.6 464.5 419.73 351.64 419.88 464.5M420.05 464.5 420.12 440.63 420.32 391.16 420.45 464.5M421.38 464.5 421.5 436.12 421.58 464.5M422.17 464.5 422.28 365.15 422.39 464.5M422.58 464.5 422.67 392.97 422.87 446.45 423.06 436.21 423.13 464.5M423.39 464.5 423.46 435.35 423.54 464.5M423.7 464.5 423.85 338.33 424.02 464.5M424.08 464.5 424.24 350.81 424.44 449.75 424.63 403.74 424.74 464.5M425.35 464.5 425.42 433.89 425.51 464.5M425.69 464.5 425.81 415.29 426 464.5M426.3 464.5 426.4 423.64 426.48 464.5M426.67 464.5 426.79 387.85 426.87 464.5M427.29 464.5 427.38 448.89 427.57 416.01 427.72 464.5M427.97 464.5 428.16 401.39 428.36 446.63 428.55 385.22 428.68 464.5M428.84 464.5 428.95 413.05 429.12 464.5M429.18 464.5 429.34 431.56 429.54 389.29 429.63 464.5M429.83 464.5 429.93 382.65 430.01 464.5M430.31 464.5 430.32 456.1 430.35 464.5M430.95 464.5 431.1 339.64 431.3 464.5M431.3 464.5 431.5 420.22 431.67 464.5M431.7 464.5 431.89 374.87 432.08 454.88 432.28 444.99 432.34 464.5M432.68 464.5 432.87 446.89 433.06 388.14 433.2 464.5M433.33 464.5 433.46 398.35 433.65 455.76 433.85 436.21 433.97 464.5M434.1 464.5 434.24 421.55 434.38 464.5M434.45 464.5 434.63 292.84 434.83 454.33 435.02 369.53 435.16 464.5M435.27 464.5 435.42 358.52 435.61 464.5M435.62 464.5 435.81 406.91 436.01 449.55 436.2 385.79 436.39 464.5M436.4 464.5 436.59 359.36 436.76 464.5M436.93 464.5 436.99 457.97 437.18 362.05 437.35 464.5M437.41 464.5 437.57 384.91 437.77 397.88 437.89 464.5M438.02 464.5 438.16 365.18 438.36 450.02 438.39 464.5M438.85 464.5 438.95 432.98 439.14 395.75 439.34 443.8 439.53 430.07 439.6 464.5M439.85 464.5 439.93 412.8 440.12 430.39 440.19 464.5M440.57 464.5 440.71 353.9 440.86 464.5M441.11 464.5 441.3 354.33 441.49 458.14 441.69 365.71 441.83 464.5M442.02 464.5 442.08 447.86 442.28 414.06 442.48 446.26 442.53 464.5M442.99 464.5 443.06 428.26 443.2 464.5M443.28 464.5 443.46 338.88 443.6 464.5M444.28 464.5 444.44 320.14 444.55 464.5M444.73 464.5 444.83 371.99 444.98 464.5M445.07 464.5 445.22 378.53 445.32 464.5M445.54 464.5 445.61 411.4 445.81 409.25 446 415.4 446.08 464.5M446.32 464.5 446.4 415.03 446.53 464.5M446.67 464.5 446.79 433.19 446.98 370.09 447.15 464.5M447.2 464.5 447.38 310.28 447.57 452 447.77 464.26 447.97 381.41 448.16 463.71 448.36 422.84 448.42 464.5M448.8 464.5 448.95 401.92 449.14 464.5M449.14 464.5 449.34 359.53 449.49 464.5M449.59 464.5 449.73 395.45 449.92 464.5M449.94 464.5 450.12 395.8 450.32 369.76 450.47 464.5M450.8 464.5 450.91 416.28 451.04 464.5M451.16 464.5 451.3 404.24 451.45 464.5M451.6 464.5 451.69 448.73 451.73 464.5M451.98 464.5 452.08 395.02 452.24 464.5M452.32 464.5 452.47 383.96 452.67 445.29 452.87 380.64 453 464.5M453.18 464.5 453.26 436.64 453.36 464.5M453.52 464.5 453.65 411.68 453.85 434.67 454.04 378.39 454.24 405.53 454.38 464.5M454.47 464.5 454.63 363.06 454.78 464.5M455.08 464.5 455.22 359.71 455.38 464.5M455.5 464.5 455.61 426.44 455.81 457.11 455.86 464.5M456.09 464.5 456.2 441.97 456.25 464.5M456.47 464.5 456.59 352.12 456.74 464.5M456.88 464.5 456.98 426.15 457.06 464.5M457.49 464.5 457.57 392.77 457.69 464.5M457.89 464.5 457.96 434.62 458.12 464.5M458.18 464.5 458.36 392.25 458.47 464.5M458.84 464.5 458.94 373.17 459.09 464.5M459.38 464.5 459.53 388.43 459.73 418.42 459.82 464.5M459.99 464.5 460.12 369.71 460.26 464.5M460.41 464.5 460.51 418.93 460.63 464.5M460.88 464.5 460.91 461.05 461.1 445.46 461.15 464.5M462.18 464.5 462.28 375.44 462.41 464.5M462.58 464.5 462.67 429.01 462.87 425.19 463.05 464.5M463.07 464.5 463.26 377.25 463.45 464.5M463.46 464.5 463.65 431.64 463.85 338.7 464.04 453.45 464.24 367.44 464.38 464.5M464.52 464.5 464.63 416.24 464.71 464.5M465 464.5 465.02 456.26 465.22 433.76 465.41 400.07 465.54 464.5M465.88 464.5 466 408.48 466.11 464.5M466.39 464.5 466.4 464.43 466.59 457.86 466.79 463.31 466.79 464.5M467.06 464.5 467.18 356.19 467.32 464.5M467.5 464.5 467.57 439.47 467.62 464.5M468.06 464.5 468.16 429.01 468.33 464.5M468.37 464.5 468.55 401.92 468.75 433.06 468.94 411.89 469.03 464.5M469.24 464.5 469.34 398.47 469.53 459.11 469.73 462.26 469.92 440.28 469.98 464.5M470.23 464.5 470.32 408.99 470.51 374.4 470.63 464.5M470.79 464.5 470.9 381.1 471.04 464.5M471.24 464.5 471.3 449.46 471.33 464.5M471.56 464.5 471.69 309.09 471.83 464.5M472 464.5 472.08 416.72 472.28 414.81 472.47 442.82 472.53 464.5M472.76 464.5 472.87 402.79 473.03 464.5M473.1 464.5 473.26 424.34 473.33 464.5M473.52 464.5 473.65 309.33 473.85 446.25 474.04 446.97 474.24 413.92 474.35 464.5M474.74 464.5 474.83 396.64 475.02 424.82 475.21 464.5M475.22 464.5 475.41 323.27 475.58 464.5M475.66 464.5 475.81 370.65 475.93 464.5M476.06 464.5 476.2 349.98 476.38 464.5M476.48 464.5 476.59 452.46 476.62 464.5M477.05 464.5 477.18 322.24 477.37 464.5M478.42 464.5 478.55 358.65 478.68 464.5M478.84 464.5 478.94 403.03 479.11 464.5M479.44 464.5 479.53 371.25 479.73 428.21 479.81 464.5M480.02 464.5 480.12 413.44 480.32 439.1 480.51 335.52 480.69 464.5M480.74 464.5 480.9 370.64 481.07 464.5M481.24 464.5 481.3 457.15 481.31 464.5M481.68 464.5 481.69 460.28 481.88 442.53 482.08 424.98 482.2 464.5M482.37 464.5 482.47 436.22 482.67 456.22 482.86 391.12 482.95 464.5M483.31 464.5 483.45 335.64 483.59 464.5M483.95 464.5 484.04 417.2 484.24 440.33 484.43 437.61 484.47 464.5M484.74 464.5 484.83 381.76 485.01 464.5M485.03 464.5 485.22 409.89 485.32 464.5M485.47 464.5 485.61 350.89 485.81 396.64 486 439.88 486.2 457.21 486.24 464.5M486.61 464.5 486.79 387.05 486.98 439.84 487.18 381.12 487.36 464.5M487.39 464.5 487.57 388.84 487.66 464.5M487.94 464.5 487.96 454.9 487.99 464.5M488.25 464.5 488.35 406.93 488.55 441.1 488.75 413.97 488.86 464.5M489.03 464.5 489.14 425.44 489.26 464.5M489.43 464.5 489.53 436.12 489.73 393.15 489.82 464.5M490.02 464.5 490.12 374.15 490.32 405.45 490.51 383.27 490.71 449.01 490.9 464.5M491.19 464.5 491.3 406.89 491.49 451.95 491.69 376.13 491.77 464.5M492.04 464.5 492.08 431.31 492.28 451.03 492.47 319.76 492.63 464.5M492.74 464.5 492.86 403.07 492.95 464.5M493.22 464.5 493.26 446.34 493.45 451.75 493.54 464.5M493.69 464.5 493.84 395.03 494 464.5M494.11 464.5 494.24 430.91 494.43 385.48 494.63 427.08 494.69 464.5M495.06 464.5 495.22 361.6 495.41 428.44 495.48 464.5M496.1 464.5 496.2 411.67 496.33 464.5M496.74 464.5 496.79 454.42 496.85 464.5M497.43 464.5 497.57 321.07 497.71 464.5M498.21 464.5 498.35 391.31 498.47 464.5M498.72 464.5 498.75 456 498.78 464.5M499.09 464.5 499.14 452.16 499.17 464.5M499.46 464.5 499.53 423.22 499.73 440.89 499.92 420.08 500.12 460.4 500.18 464.5M500.63 464.5 500.71 421.35 500.9 360.96 501.03 464.5M501.42 464.5 501.49 444.48 501.53 464.5M502.31 464.5 502.47 371.29 502.67 460.43 502.76 464.5M502.9 464.5 503.06 445.05 503.11 464.5M503.31 464.5 503.45 315.43 503.6 464.5M504.02 464.5 504.04 452.45 504.09 464.5M504.33 464.5 504.43 426.99 504.49 464.5M504.99 464.5 505.02 457.14 505.22 416.25 505.31 464.5M505.53 464.5 505.61 429.93 505.8 385.97 505.93 464.5M506.24 464.5 506.39 414.12 506.59 426.12 506.78 413.47 506.95 464.5M507.27 464.5 507.37 371.89 507.5 464.5M507.63 464.5 507.77 362.88 507.87 464.5M508.09 464.5 508.16 420.37 508.34 464.5M508.36 464.5 508.55 403.98 508.64 464.5M508.85 464.5 508.94 400.81 509.14 460.29 509.33 411.11 509.41 464.5M509.66 464.5 509.73 425.32 509.88 464.5M510.18 464.5 510.31 353.35 510.47 464.5M510.56 464.5 510.71 371.2 510.9 430.34 511.1 440.33 511.25 464.5M511.56 464.5 511.69 377.54 511.88 446.66 512.08 447.55 512.27 440.41 512.34 464.5M512.53 464.5 512.67 357.65 512.86 445.6 513.06 447.14 513.25 354.62 513.4 464.5M513.7 464.5 513.84 407.76 513.99 464.5M514.08 464.5 514.24 391.18 514.43 414.5 514.63 380.58 514.8 464.5M514.85 464.5 515.02 379.29 515.13 464.5M515.43 464.5 515.61 355.9 515.69 464.5M515.98 464.5 516 448.74 516.14 464.5M516.21 464.5 516.39 366.67 516.53 464.5M516.98 464.5 516.98 463.6 517.18 318.19 517.3 464.5M517.53 464.5 517.57 445.17 517.6 464.5M518.06 464.5 518.16 408.97 518.35 318.71 518.55 458.25 518.74 384.5 518.94 460.09 519.14 347.55 519.33 459.71 519.53 377.08 519.65 464.5M519.95 464.5 520.12 386.47 520.31 454.91 520.51 442.85 520.71 434.89 520.9 463.11 520.92 464.5M521.14 464.5 521.29 418.62 521.39 464.5M521.65 464.5 521.69 452.92 521.73 464.5M522 464.5 522.08 437.37 522.14 464.5M522.4 464.5 522.47 431.03 522.55 464.5M523.01 464.5 523.06 422.3 523.25 407.72 523.45 402.19 523.54 464.5M523.82 464.5 523.84 453.37 523.92 464.5M524.06 464.5 524.23 346.27 524.43 427.66 524.49 464.5M524.76 464.5 524.82 423.77 525.02 462.57 525.02 464.5M525.93 464.5 526 418.14 526.1 464.5M526.25 464.5 526.39 361.09 526.59 397.33 526.78 450.37 526.98 440.64 527.06 464.5M527.27 464.5 527.37 425.73 527.47 464.5M527.71 464.5 527.76 451.52 527.87 464.5M528 464.5 528.16 429.58 528.35 436.62 528.55 414.6 528.74 424.69 528.9 464.5M529.04 464.5 529.14 454.88 529.33 451.76 529.53 463.32 529.55 464.5M529.81 464.5 529.92 450.97 530.12 348.45 530.25 464.5M530.38 464.5 530.51 355.76 530.63 464.5M530.8 464.5 530.9 402.41 531.03 464.5M531.34 464.5 531.49 298.52 531.64 464.5M531.83 464.5 531.88 443.84 531.94 464.5M532.17 464.5 532.27 409.29 532.38 464.5M532.52 464.5 532.67 327.91 532.85 464.5M532.89 464.5 533.06 396.01 533.13 464.5M533.37 464.5 533.45 387.19 533.65 426.79 533.84 407.04 534.04 455.53 534.23 411.58 534.4 464.5M534.44 464.5 534.63 331.17 534.77 464.5M535.12 464.5 535.21 382.08 535.35 464.5M535.71 464.5 535.8 429.11 536 336.85 536.19 442.82 536.25 464.5M536.45 464.5 536.59 329.38 536.73 464.5M536.9 464.5 536.98 425.59 537.07 464.5M537.29 464.5 537.37 433.94 537.57 464.5M537.57 464.5 537.76 397.78 537.94 464.5M537.97 464.5 538.16 340.07 538.3 464.5M538.62 464.5 538.74 447.08 538.94 431 539.14 427.38 539.33 347.27 539.48 464.5M539.74 464.5 539.92 344.36 540.12 434.05 540.31 403.19 540.45 464.5M540.57 464.5 540.7 410.28 540.89 464.5M540.91 464.5 541.1 404.18 541.2 464.5M541.34 464.5 541.49 317.51 541.66 464.5M541.72 464.5 541.88 383.43 542.03 464.5M542.12 464.5 542.27 370.67 542.47 423.92 542.58 464.5M542.71 464.5 542.86 340.79 543.04 464.5M543.31 464.5 543.45 320.45 543.59 464.5M543.74 464.5 543.84 408.86 544.04 440.96 544.23 421.9 544.29 464.5M544.62 464.5 544.63 462.06 544.82 385.6 544.94 464.5M545.14 464.5 545.21 431.75 545.41 453.3 545.61 333.13 545.75 464.5M546.14 464.5 546.19 445.34 546.39 438.38 546.59 405.86 546.73 464.5M546.81 464.5 546.98 343.16 547.11 464.5M547.24 464.5 547.37 343.68 547.57 333.79 547.76 376.54 547.96 444 548.08 464.5M548.4 464.5 548.55 309.09 548.69 464.5M549.08 464.5 549.13 444.22 549.21 464.5M549.43 464.5 549.53 434.04 549.61 464.5M550.12 464.5 550.31 434.43 550.42 464.5M550.83 464.5 550.9 421.02 550.98 464.5M551.27 464.5 551.29 457.39 551.49 454.89 551.68 419.73 551.77 464.5M551.94 464.5 552.08 346.09 552.27 464.5M552.28 464.5 552.47 432.31 552.5 464.5M552.96 464.5 553.06 381.02 553.23 464.5M553.57 464.5 553.64 428.36 553.74 464.5M553.91 464.5 554.04 392.99 554.13 464.5M554.32 464.5 554.43 381.53 554.58 464.5M555.45 464.5 555.61 364.92 555.73 464.5M556.25 464.5 556.39 388.6 556.59 442.11 556.78 410.71 556.98 459.37 557.17 438.79 557.24 464.5M557.43 464.5 557.57 353.43 557.73 464.5M557.94 464.5 557.96 462.66 558.15 440.21 558.35 403.28 558.54 464.5M558.55 464.5 558.74 411.45 558.9 464.5M559.02 464.5 559.13 448.04 559.25 464.5M559.43 464.5 559.53 453.87 559.61 464.5M559.75 464.5 559.92 378.11 560.09 464.5M560.13 464.5 560.31 329.2 560.49 464.5M560.86 464.5 560.9 461.51 560.91 464.5M561.52 464.5 561.68 451.34 561.79 464.5M562.03 464.5 562.08 460.87 562.27 351.19 562.41 464.5M562.78 464.5 562.86 456.57 563.06 455.44 563.17 464.5M563.51 464.5 563.64 418.33 563.77 464.5M564.02 464.5 564.04 462.96 564.23 330.37 564.38 464.5M564.48 464.5 564.62 332.75 564.82 444.18 564.86 464.5M565.11 464.5 565.21 369.56 565.38 464.5M565.45 464.5 565.6 411.78 565.7 464.5M566.1 464.5 566.19 412.2 566.39 351.05 566.57 464.5M566.66 464.5 566.78 455.45 566.8 464.5M567.24 464.5 567.37 394.88 567.57 456.7 567.76 371.45 567.96 463.23 568 464.5M568.69 464.5 568.74 447.99 568.82 464.5M569.03 464.5 569.13 431.26 569.33 379.25 569.49 464.5M569.56 464.5 569.72 365.67 569.86 464.5M569.99 464.5 570.11 396.24 570.2 464.5M570.71 464.5 570.9 417.22 571 464.5M571.16 464.5 571.29 369.35 571.42 464.5M571.62 464.5 571.68 444.04 571.88 452.44 571.9 464.5M572.2 464.5 572.27 402.21 572.47 432.12 572.53 464.5M573.16 464.5 573.25 452.77 573.35 464.5M573.48 464.5 573.64 400.04 573.79 464.5M573.88 464.5 574.04 367.59 574.23 464.5M574.52 464.5 574.62 420.59 574.78 464.5M575.12 464.5 575.21 406.32 575.41 413.78 575.6 437.27 575.69 464.5M575.84 464.5 576 338.79 576.16 464.5M576.43 464.5 576.58 297.79 576.73 464.5M577.01 464.5 577.17 438.25 577.37 449.31 577.46 464.5M577.6 464.5 577.76 391.43 577.92 464.5M578.04 464.5 578.15 444.41 578.35 430.09 578.54 353.86 578.72 464.5M578.98 464.5 579.13 368.34 579.26 464.5M579.39 464.5 579.53 345.55 579.66 464.5M580.56 464.5 580.7 355.56 580.9 408.02 581.09 364.05 581.29 455.05 581.31 464.5M581.73 464.5 581.88 330.94 582 464.5M582.15 464.5 582.27 338.88 582.47 436.75 582.66 459.37 582.86 387.01 583.05 449.26 583.25 438.49 583.39 464.5M583.97 464.5 584.03 444.55 584.23 439.25 584.43 439.42 584.62 377.54 584.82 462.16 585.01 384.17 585.21 442.05 585.27 464.5M585.46 464.5 585.6 326.29 585.75 464.5M585.91 464.5 586 422.42 586.08 464.5M586.4 464.5 586.58 397.3 586.78 441.68 586.98 343.2 587.12 464.5M587.26 464.5 587.37 416.46 587.56 460.21 587.76 391.96 587.96 463.29 588.15 463.19 588.35 374.65 588.51 464.5M588.6 464.5 588.74 407.13 588.94 385.16 589.11 464.5M589.38 464.5 589.52 316.53 589.67 464.5M589.97 464.5 590.11 361.15 590.31 449.42 590.5 368.41 590.63 464.5M590.78 464.5 590.9 385.22 591.09 460.36 591.29 397.96 591.48 380.17 591.68 345.58 591.79 464.5M592.1 464.5 592.27 417.89 592.41 464.5M593.41 464.5 593.45 456.67 593.64 440.57 593.84 379.32 594.03 457.06 594.06 464.5M594.29 464.5 594.43 331.66 594.57 464.5M594.92 464.5 595.01 417.34 595.21 446.34 595.41 417.49 595.6 436.01 595.8 412.2 595.9 464.5M596.28 464.5 596.39 456.59 596.58 409.28 596.65 464.5M596.94 464.5 596.97 445.98 597.17 445.13 597.27 464.5M598.32 464.5 598.35 452.37 598.54 376.05 598.73 464.5M598.77 464.5 598.94 432.41 599.13 358.55 599.33 444.06 599.52 379.14 599.68 464.5M599.81 464.5 599.92 437.26 600.09 464.5M600.39 464.5 600.5 370.36 600.65 464.5M600.78 464.5 600.9 422.33 600.96 464.5M601.32 464.5 601.48 355.02 601.65 464.5M602.72 464.5 602.86 419.67 603.05 431.49 603.1 464.5M603.37 464.5 603.44 396.82 603.64 454.37 603.84 401.49 604.03 420.26 604.23 459.4 604.25 464.5M604.57 464.5 604.62 445.43 604.72 464.5M604.98 464.5 605.01 460.91 605.03 464.5M605.28 464.5 605.41 381.31 605.6 462.89 605.8 387.11 605.95 464.5M606.4 464.5 606.58 401.53 606.67 464.5M607.1 464.5 607.17 418.49 607.27 464.5M607.58 464.5 607.76 411.53 607.85 464.5M608.06 464.5 608.15 414.86 608.31 464.5M608.37 464.5 608.54 379.26 608.74 447.3 608.93 403.75 609.1 464.5M609.21 464.5 609.33 444.34 609.52 423.36 609.72 449.43 609.92 452.09 610.11 416.82 610.22 464.5M610.38 464.5 610.5 399.62 610.63 464.5M610.86 464.5 610.9 457.37 611 464.5M611.13 464.5 611.29 438.14 611.47 464.5M611.49 464.5 611.68 416.44 611.78 464.5M611.97 464.5 612.07 413.26 612.27 393.34 612.4 464.5M612.52 464.5 612.66 380.51 612.86 464.48 613.05 386.18 613.19 464.5M613.53 464.5 613.64 355.22 613.79 464.5M613.92 464.5 614.03 427.77 614.23 463.2 614.42 391.59 614.53 464.5M614.78 464.5 614.82 450.85 614.89 464.5M615.28 464.5 615.4 411.97 615.53 464.5M616.4 464.5 616.58 370.37 616.73 464.5M617.31 464.5 617.37 440.65 617.56 372.37 617.76 429.58 617.95 448.79 618.15 358.07 618.27 464.5M618.43 464.5 618.54 379.14 618.65 464.5M618.85 464.5 618.93 419.17 619.03 464.5M619.44 464.5 619.52 321.79 619.67 464.5M619.76 464.5 619.91 294.47 620.11 334.62 620.25 464.5M620.42 464.5 620.5 418.82 620.58 464.5M620.77 464.5 620.89 361.46 620.99 464.5M621.2 464.5 621.29 378.84 621.42 464.5M621.54 464.5 621.68 358.77 621.88 339.69 622 464.5M622.14 464.5 622.27 335.22 622.46 424.91 622.54 464.5M622.79 464.5 622.86 436.88 622.9 464.5M623.13 464.5 623.25 332.79 623.44 461.1 623.64 414.35 623.71 464.5M623.94 464.5 624.03 393.02 624.23 413.1 624.42 430.04 624.47 464.5M624.75 464.5 624.82 408.12 625.01 389.24 625.19 464.5M625.23 464.5 625.4 403.7 625.6 362.66 625.8 377.09 625.92 464.5M626.14 464.5 626.19 449.21 626.35 464.5M626.39 464.5 626.58 359.53 626.77 464.5M626.79 464.5 626.97 361.24 627.13 464.5M627.22 464.5 627.36 383.69 627.53 464.5M627.6 464.5 627.76 400.87 627.87 464.5M628.11 464.5 628.15 451.02 628.18 464.5M628.86 464.5 628.93 433.84 629.13 426.9 629.18 464.5M629.47 464.5 629.52 432.21 629.72 446.91 629.91 432.66 629.98 464.5M630.26 464.5 630.31 447.51 630.5 432.3 630.65 464.5M630.72 464.5 630.89 388.61 630.96 464.5M631.22 464.5 631.29 400.41 631.46 464.5M631.5 464.5 631.68 400.51 631.8 464.5M631.98 464.5 632.07 431.35 632.13 464.5M632.35 464.5 632.46 362.77 632.58 464.5M633.07 464.5 633.25 421.02 633.44 420.62 633.6 464.5M634.05 464.5 634.23 394.04 634.3 464.5M634.95 464.5 635.01 413.83 635.21 433.88 635.4 307.84 635.6 447.78 635.7 464.5M636.03 464.5 636.19 435.74 636.38 406.02 636.58 420.39 636.78 418.24 636.85 464.5M637.18 464.5 637.36 351.11 637.56 372.4 637.76 461.16 637.95 442.8 638.01 464.5M638.35 464.5 638.54 370.38 638.67 464.5M638.79 464.5 638.93 359.07 639.13 421.47 639.32 381.81 639.5 464.5M639.54 464.5 639.72 363.82 639.85 464.5M640.14 464.5 640.31 355.51 640.49 464.5M640.59 464.5 640.7 459.92 640.74 464.5M640.92 464.5 641.09 378.29 641.26 464.5M641.93 464.5 642.07 382.72 642.16 464.5M642.36 464.5 642.46 362.91 642.59 464.5M642.88 464.5 643.05 358.35 643.25 405.29 643.44 439.42 643.64 390.33 643.76 464.5M643.95 464.5 644.03 428.84 644.13 464.5M644.31 464.5 644.42 423.25 644.62 377.6 644.74 464.5M644.88 464.5 645.01 355.24 645.16 464.5M645.25 464.5 645.4 341.02 645.6 454.84 645.64 464.5M645.85 464.5 645.99 390.1 646.19 435.82 646.26 464.5M646.43 464.5 646.58 308.37 646.7 464.5M647.03 464.5 647.17 407.71 647.26 464.5M647.46 464.5 647.56 399.82 647.64 464.5M648.05 464.5 648.15 419.22 648.26 464.5M648.4 464.5 648.54 382.41 648.64 464.5M648.82 464.5 648.93 364.78 649.07 464.5M649.94 464.5 650.11 353.07 650.23 464.5M650.42 464.5 650.5 409.42 650.63 464.5M650.75 464.5 650.89 388.35 651.03 464.5M651.16 464.5 651.28 403.57 651.38 464.5M651.56 464.5 651.68 361.32 651.77 464.5M651.98 464.5 652.07 365.82 652.16 464.5M652.38 464.5 652.46 378.5 652.57 464.5M652.76 464.5 652.85 400.8 652.97 464.5M653.23 464.5 653.25 460.71 653.44 360.65 653.58 464.5M653.7 464.5 653.83 355.52 653.97 464.5M654.1 464.5 654.23 382.35 654.42 402.92 654.52 464.5M654.75 464.5 654.81 432.28 655.01 432.76 655.21 395.69 655.35 464.5M655.44 464.5 655.6 346.61 655.74 464.5M655.84 464.5 655.99 332.66 656.19 414.57 656.38 455.15 656.45 464.5M656.84 464.5 656.97 377.24 657.16 464.5M657.18 464.5 657.36 384.69 657.5 464.5M657.74 464.5 657.76 461.3 657.78 464.5M658.08 464.5 658.15 453.92 658.22 464.5M658.78 464.5 658.93 352.45 659.11 464.5M659.17 464.5 659.32 415.41 659.4 464.5M659.96 464.5 660.11 373.18 660.21 464.5M660.42 464.5 660.5 408.48" stroke="#ff0000" stroke-width="1.25" stroke-dasharray="14 8"/>
</g>
<rect x="495.5" y="25.5" width="147.5" height="60.7" fill="#fff" stroke="#383838" stroke-width="1.1"/>
<path d="M500.8 42h40.6" stroke="#0000ff" stroke-width="1.5" stroke-opacity="0.78"/>
<path d="M500.8 70h36" stroke="#ff0000" stroke-width="1.5" stroke-dasharray="13.7 7.9" stroke-opacity="0.58"/>
</svg>
<div class="t">
<div class="yl" style="top:-3.7px">25</div><div class="yl" style="top:61.6px">20</div><div class="yl" style="top:126.9px">15</div><div class="yl" style="top:192.2px">10</div><div class="yl" style="top:257.4px">5</div><div class="yl" style="top:322.7px">0</div><div class="yl" style="top:388.0px">-5</div><div class="yl" style="top:453.3px">-10</div>
<div class="xl" style="left:32.5px">0</div><div class="xl" style="left:130.5px">500</div><div class="xl" style="left:228.5px">1000</div><div class="xl" style="left:326.5px">1500</div><div class="xl" style="left:424.5px">2000</div><div class="xl" style="left:522.5px">2500</div><div class="xl" style="left:620.5px">3000</div>
<div class="lab" style="left:298.6px;top:508px">Range index</div>
<div class="lab" style="left:-81.5px;top:224.6px;transform:rotate(-90deg) scaleX(0.955);width:180px;height:26px;line-height:26px;font-size:26.5px;transform-origin:center;text-align:center">Amplitude,dB</div>
<div class="leg" style="left:546px;top:30.3px;transform:scaleY(1.1)">PC-only</div>
<div class="leg" style="left:546px;top:58.5px">proposed</div>
</div>
</body></html>
